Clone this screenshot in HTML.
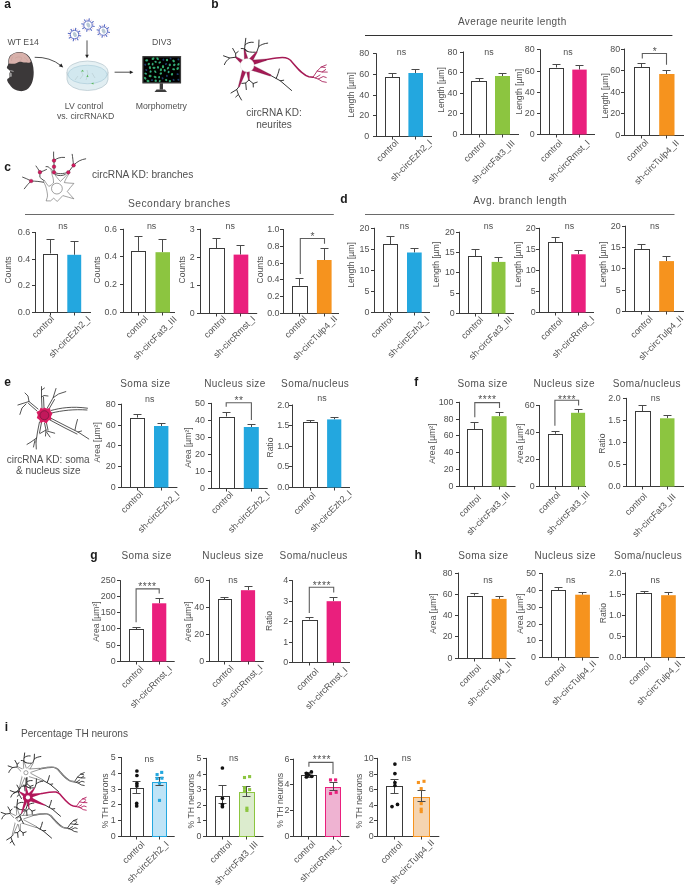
<!DOCTYPE html>
<html><head><meta charset="utf-8"><style>
html,body{margin:0;padding:0;background:#fff;overflow:hidden;}
svg{display:block;font-family:"Liberation Sans", sans-serif;will-change:transform;}
</style></head><body>
<svg width="685" height="885" viewBox="0 0 685 885">
<rect width="685" height="885" fill="#fff"/>
<line x1="376.50" y1="53.40" x2="376.50" y2="137.00" stroke="#3a3a3a" stroke-width="1.0"/>
<line x1="373.00" y1="53.50" x2="376.50" y2="53.50" stroke="#3a3a3a" stroke-width="1.0"/>
<text x="369.2" y="56.4" font-size="8.9" text-anchor="end" fill="#505050" >80</text>
<line x1="373.00" y1="74.50" x2="376.50" y2="74.50" stroke="#3a3a3a" stroke-width="1.0"/>
<text x="369.2" y="77.0" font-size="8.9" text-anchor="end" fill="#505050" >60</text>
<line x1="373.00" y1="95.50" x2="376.50" y2="95.50" stroke="#3a3a3a" stroke-width="1.0"/>
<text x="369.2" y="97.7" font-size="8.9" text-anchor="end" fill="#505050" >40</text>
<line x1="373.00" y1="115.50" x2="376.50" y2="115.50" stroke="#3a3a3a" stroke-width="1.0"/>
<text x="369.2" y="118.3" font-size="8.9" text-anchor="end" fill="#505050" >20</text>
<line x1="373.00" y1="136.50" x2="376.50" y2="136.50" stroke="#3a3a3a" stroke-width="1.0"/>
<text x="369.2" y="139.0" font-size="8.9" text-anchor="end" fill="#505050" >0</text>
<line x1="373.00" y1="136.50" x2="432.00" y2="136.50" stroke="#3a3a3a" stroke-width="1.0"/>
<line x1="392.50" y1="73.50" x2="392.50" y2="77.00" stroke="#4a4a4a" stroke-width="1.0"/>
<line x1="388.50" y1="73.50" x2="396.50" y2="73.50" stroke="#4a4a4a" stroke-width="1.0"/>
<rect x="385.50" y="77.50" width="14.00" height="59.00" fill="#fff" stroke="#3a3a3a" stroke-width="1"/>
<line x1="392.50" y1="136.50" x2="392.50" y2="139.50" stroke="#3a3a3a" stroke-width="1.0"/>
<line x1="415.50" y1="69.50" x2="415.50" y2="73.00" stroke="#4a4a4a" stroke-width="1.0"/>
<line x1="411.50" y1="69.50" x2="419.50" y2="69.50" stroke="#4a4a4a" stroke-width="1.0"/>
<rect x="408.40" y="73.00" width="14.60" height="63.50" fill="#23a7df"/>
<line x1="415.50" y1="136.50" x2="415.50" y2="139.50" stroke="#3a3a3a" stroke-width="1.0"/>
<text transform="translate(350.8,95.0) rotate(-90)" x="0" y="3" font-size="8.6" text-anchor="middle" fill="#505050">Length [µm]</text>
<text x="401.5" y="55.0" font-size="8.9" text-anchor="middle" fill="#505050" >ns</text>
<text transform="translate(389.50,152.70) rotate(-45)" x="0" y="0" font-size="9.0" text-anchor="middle" fill="#505050">control</text>
<text transform="translate(413.30,162.50) rotate(-45)" x="0" y="0" font-size="9.0" text-anchor="middle" fill="#505050">sh-circEzh2_I</text>
<line x1="463.50" y1="51.50" x2="463.50" y2="135.00" stroke="#3a3a3a" stroke-width="1.0"/>
<line x1="460.00" y1="52.50" x2="463.50" y2="52.50" stroke="#3a3a3a" stroke-width="1.0"/>
<text x="457.4" y="54.5" font-size="8.9" text-anchor="end" fill="#505050" >80</text>
<line x1="460.00" y1="72.50" x2="463.50" y2="72.50" stroke="#3a3a3a" stroke-width="1.0"/>
<text x="457.4" y="75.1" font-size="8.9" text-anchor="end" fill="#505050" >60</text>
<line x1="460.00" y1="93.50" x2="463.50" y2="93.50" stroke="#3a3a3a" stroke-width="1.0"/>
<text x="457.4" y="95.8" font-size="8.9" text-anchor="end" fill="#505050" >40</text>
<line x1="460.00" y1="113.50" x2="463.50" y2="113.50" stroke="#3a3a3a" stroke-width="1.0"/>
<text x="457.4" y="116.4" font-size="8.9" text-anchor="end" fill="#505050" >20</text>
<line x1="460.00" y1="134.50" x2="463.50" y2="134.50" stroke="#3a3a3a" stroke-width="1.0"/>
<text x="457.4" y="137.0" font-size="8.9" text-anchor="end" fill="#505050" >0</text>
<line x1="460.00" y1="134.50" x2="519.00" y2="134.50" stroke="#3a3a3a" stroke-width="1.0"/>
<line x1="479.50" y1="78.50" x2="479.50" y2="81.00" stroke="#4a4a4a" stroke-width="1.0"/>
<line x1="475.50" y1="78.50" x2="483.50" y2="78.50" stroke="#4a4a4a" stroke-width="1.0"/>
<rect x="471.50" y="81.50" width="15.00" height="53.00" fill="#fff" stroke="#3a3a3a" stroke-width="1"/>
<line x1="479.50" y1="134.50" x2="479.50" y2="137.50" stroke="#3a3a3a" stroke-width="1.0"/>
<line x1="502.50" y1="73.50" x2="502.50" y2="76.00" stroke="#4a4a4a" stroke-width="1.0"/>
<line x1="498.50" y1="73.50" x2="506.50" y2="73.50" stroke="#4a4a4a" stroke-width="1.0"/>
<rect x="495.00" y="76.00" width="15.00" height="58.50" fill="#8cc540"/>
<line x1="502.50" y1="134.50" x2="502.50" y2="137.50" stroke="#3a3a3a" stroke-width="1.0"/>
<text transform="translate(441.4,90.0) rotate(-90)" x="0" y="3" font-size="8.6" text-anchor="middle" fill="#505050">Length [µm]</text>
<text x="489.0" y="55.0" font-size="8.9" text-anchor="middle" fill="#505050" >ns</text>
<text transform="translate(476.70,153.00) rotate(-45)" x="0" y="0" font-size="9.0" text-anchor="middle" fill="#505050">control</text>
<text transform="translate(495.10,164.00) rotate(-45)" x="0" y="0" font-size="9.0" text-anchor="middle" fill="#505050">sh-circFat3_III</text>
<line x1="540.50" y1="49.40" x2="540.50" y2="135.00" stroke="#3a3a3a" stroke-width="1.0"/>
<line x1="537.00" y1="49.50" x2="540.50" y2="49.50" stroke="#3a3a3a" stroke-width="1.0"/>
<text x="534.7" y="52.4" font-size="8.9" text-anchor="end" fill="#505050" >80</text>
<line x1="537.00" y1="71.50" x2="540.50" y2="71.50" stroke="#3a3a3a" stroke-width="1.0"/>
<text x="534.7" y="73.5" font-size="8.9" text-anchor="end" fill="#505050" >60</text>
<line x1="537.00" y1="92.50" x2="540.50" y2="92.50" stroke="#3a3a3a" stroke-width="1.0"/>
<text x="534.7" y="94.6" font-size="8.9" text-anchor="end" fill="#505050" >40</text>
<line x1="537.00" y1="113.50" x2="540.50" y2="113.50" stroke="#3a3a3a" stroke-width="1.0"/>
<text x="534.7" y="115.7" font-size="8.9" text-anchor="end" fill="#505050" >20</text>
<line x1="537.00" y1="134.50" x2="540.50" y2="134.50" stroke="#3a3a3a" stroke-width="1.0"/>
<text x="534.7" y="136.8" font-size="8.9" text-anchor="end" fill="#505050" >0</text>
<line x1="537.00" y1="134.50" x2="595.00" y2="134.50" stroke="#3a3a3a" stroke-width="1.0"/>
<line x1="556.50" y1="64.50" x2="556.50" y2="67.50" stroke="#4a4a4a" stroke-width="1.0"/>
<line x1="552.50" y1="64.50" x2="560.50" y2="64.50" stroke="#4a4a4a" stroke-width="1.0"/>
<rect x="549.50" y="68.50" width="14.00" height="66.00" fill="#fff" stroke="#3a3a3a" stroke-width="1"/>
<line x1="556.50" y1="134.50" x2="556.50" y2="137.50" stroke="#3a3a3a" stroke-width="1.0"/>
<line x1="579.50" y1="65.50" x2="579.50" y2="69.60" stroke="#4a4a4a" stroke-width="1.0"/>
<line x1="575.50" y1="65.50" x2="583.50" y2="65.50" stroke="#4a4a4a" stroke-width="1.0"/>
<rect x="572.30" y="69.60" width="14.40" height="64.90" fill="#ea1f7d"/>
<line x1="579.50" y1="134.50" x2="579.50" y2="137.50" stroke="#3a3a3a" stroke-width="1.0"/>
<text transform="translate(519.2,91.7) rotate(-90)" x="0" y="3" font-size="8.6" text-anchor="middle" fill="#505050">Length [µm]</text>
<text x="568.0" y="55.0" font-size="8.9" text-anchor="middle" fill="#505050" >ns</text>
<text transform="translate(553.40,153.00) rotate(-45)" x="0" y="0" font-size="9.0" text-anchor="middle" fill="#505050">control</text>
<text transform="translate(570.90,163.00) rotate(-45)" x="0" y="0" font-size="9.0" text-anchor="middle" fill="#505050">sh-circRmst_I</text>
<line x1="624.50" y1="48.60" x2="624.50" y2="136.00" stroke="#3a3a3a" stroke-width="1.0"/>
<line x1="621.00" y1="49.50" x2="624.50" y2="49.50" stroke="#3a3a3a" stroke-width="1.0"/>
<text x="620.2" y="51.6" font-size="8.9" text-anchor="end" fill="#505050" >80</text>
<line x1="621.00" y1="70.50" x2="624.50" y2="70.50" stroke="#3a3a3a" stroke-width="1.0"/>
<text x="620.2" y="73.2" font-size="8.9" text-anchor="end" fill="#505050" >60</text>
<line x1="621.00" y1="92.50" x2="624.50" y2="92.50" stroke="#3a3a3a" stroke-width="1.0"/>
<text x="620.2" y="94.7" font-size="8.9" text-anchor="end" fill="#505050" >40</text>
<line x1="621.00" y1="113.50" x2="624.50" y2="113.50" stroke="#3a3a3a" stroke-width="1.0"/>
<text x="620.2" y="116.2" font-size="8.9" text-anchor="end" fill="#505050" >20</text>
<line x1="621.00" y1="135.50" x2="624.50" y2="135.50" stroke="#3a3a3a" stroke-width="1.0"/>
<text x="620.2" y="137.8" font-size="8.9" text-anchor="end" fill="#505050" >0</text>
<line x1="621.00" y1="135.50" x2="684.00" y2="135.50" stroke="#3a3a3a" stroke-width="1.0"/>
<line x1="641.50" y1="63.50" x2="641.50" y2="67.00" stroke="#4a4a4a" stroke-width="1.0"/>
<line x1="637.50" y1="63.50" x2="645.50" y2="63.50" stroke="#4a4a4a" stroke-width="1.0"/>
<rect x="634.50" y="67.50" width="15.00" height="68.00" fill="#fff" stroke="#3a3a3a" stroke-width="1"/>
<line x1="641.50" y1="135.50" x2="641.50" y2="138.50" stroke="#3a3a3a" stroke-width="1.0"/>
<line x1="666.50" y1="70.50" x2="666.50" y2="74.00" stroke="#4a4a4a" stroke-width="1.0"/>
<line x1="662.50" y1="70.50" x2="670.50" y2="70.50" stroke="#4a4a4a" stroke-width="1.0"/>
<rect x="659.20" y="74.00" width="15.30" height="61.50" fill="#f6931e"/>
<line x1="666.50" y1="135.50" x2="666.50" y2="138.50" stroke="#3a3a3a" stroke-width="1.0"/>
<text transform="translate(604.6,96.0) rotate(-90)" x="0" y="3" font-size="8.6" text-anchor="middle" fill="#505050">Length [µm]</text>
<polyline points="642.3,58.6 642.3,53.5 666.5,53.5 666.5,64.8" fill="none" stroke="#5e5e5e" stroke-width="1.1"/>
<text x="655.1" y="55.0" font-size="10.2" text-anchor="middle" fill="#505050" letter-spacing="0.55">*</text>
<text transform="translate(639.30,152.30) rotate(-45)" x="0" y="0" font-size="9.0" text-anchor="middle" fill="#505050">control</text>
<text transform="translate(658.70,164.30) rotate(-45)" x="0" y="0" font-size="9.0" text-anchor="middle" fill="#505050">sh-circTulp4_II</text>
<line x1="35.50" y1="232.00" x2="35.50" y2="313.00" stroke="#3a3a3a" stroke-width="1.0"/>
<line x1="32.00" y1="232.50" x2="35.50" y2="232.50" stroke="#3a3a3a" stroke-width="1.0"/>
<text x="30.1" y="235.0" font-size="8.9" text-anchor="end" fill="#505050" >0.6</text>
<line x1="32.00" y1="259.50" x2="35.50" y2="259.50" stroke="#3a3a3a" stroke-width="1.0"/>
<text x="30.1" y="261.7" font-size="8.9" text-anchor="end" fill="#505050" >0.4</text>
<line x1="32.00" y1="285.50" x2="35.50" y2="285.50" stroke="#3a3a3a" stroke-width="1.0"/>
<text x="30.1" y="288.4" font-size="8.9" text-anchor="end" fill="#505050" >0.2</text>
<line x1="32.00" y1="312.50" x2="35.50" y2="312.50" stroke="#3a3a3a" stroke-width="1.0"/>
<text x="30.1" y="315.1" font-size="8.9" text-anchor="end" fill="#505050" >0.0</text>
<line x1="32.00" y1="312.50" x2="91.00" y2="312.50" stroke="#3a3a3a" stroke-width="1.0"/>
<line x1="50.50" y1="239.50" x2="50.50" y2="253.50" stroke="#4a4a4a" stroke-width="1.0"/>
<line x1="46.50" y1="239.50" x2="54.50" y2="239.50" stroke="#4a4a4a" stroke-width="1.0"/>
<rect x="43.50" y="254.50" width="14.00" height="58.00" fill="#fff" stroke="#3a3a3a" stroke-width="1"/>
<line x1="50.50" y1="312.50" x2="50.50" y2="315.50" stroke="#3a3a3a" stroke-width="1.0"/>
<line x1="74.50" y1="241.50" x2="74.50" y2="254.80" stroke="#4a4a4a" stroke-width="1.0"/>
<line x1="70.50" y1="241.50" x2="78.50" y2="241.50" stroke="#4a4a4a" stroke-width="1.0"/>
<rect x="67.30" y="254.80" width="13.90" height="57.70" fill="#23a7df"/>
<line x1="74.50" y1="312.50" x2="74.50" y2="315.50" stroke="#3a3a3a" stroke-width="1.0"/>
<text transform="translate(7.9,270.0) rotate(-90)" x="0" y="3" font-size="8.6" text-anchor="middle" fill="#505050">Counts</text>
<text x="63.0" y="229.0" font-size="8.9" text-anchor="middle" fill="#505050" >ns</text>
<text transform="translate(45.10,329.00) rotate(-45)" x="0" y="0" font-size="9.0" text-anchor="middle" fill="#505050">control</text>
<text transform="translate(71.70,339.00) rotate(-45)" x="0" y="0" font-size="9.0" text-anchor="middle" fill="#505050">sh-circEzh2_I</text>
<line x1="123.50" y1="228.80" x2="123.50" y2="313.00" stroke="#3a3a3a" stroke-width="1.0"/>
<line x1="120.00" y1="229.50" x2="123.50" y2="229.50" stroke="#3a3a3a" stroke-width="1.0"/>
<text x="116.9" y="231.8" font-size="8.9" text-anchor="end" fill="#505050" >0.6</text>
<line x1="120.00" y1="256.50" x2="123.50" y2="256.50" stroke="#3a3a3a" stroke-width="1.0"/>
<text x="116.9" y="259.4" font-size="8.9" text-anchor="end" fill="#505050" >0.4</text>
<line x1="120.00" y1="284.50" x2="123.50" y2="284.50" stroke="#3a3a3a" stroke-width="1.0"/>
<text x="116.9" y="286.9" font-size="8.9" text-anchor="end" fill="#505050" >0.2</text>
<line x1="120.00" y1="312.50" x2="123.50" y2="312.50" stroke="#3a3a3a" stroke-width="1.0"/>
<text x="116.9" y="314.5" font-size="8.9" text-anchor="end" fill="#505050" >0.0</text>
<line x1="120.00" y1="312.50" x2="175.00" y2="312.50" stroke="#3a3a3a" stroke-width="1.0"/>
<line x1="138.50" y1="236.50" x2="138.50" y2="250.90" stroke="#4a4a4a" stroke-width="1.0"/>
<line x1="134.50" y1="236.50" x2="142.50" y2="236.50" stroke="#4a4a4a" stroke-width="1.0"/>
<rect x="131.50" y="251.50" width="14.00" height="61.00" fill="#fff" stroke="#3a3a3a" stroke-width="1"/>
<line x1="138.50" y1="312.50" x2="138.50" y2="315.50" stroke="#3a3a3a" stroke-width="1.0"/>
<line x1="162.50" y1="239.50" x2="162.50" y2="252.20" stroke="#4a4a4a" stroke-width="1.0"/>
<line x1="158.50" y1="239.50" x2="166.50" y2="239.50" stroke="#4a4a4a" stroke-width="1.0"/>
<rect x="155.50" y="252.20" width="14.50" height="60.30" fill="#8cc540"/>
<line x1="162.50" y1="312.50" x2="162.50" y2="315.50" stroke="#3a3a3a" stroke-width="1.0"/>
<text transform="translate(97.2,270.0) rotate(-90)" x="0" y="3" font-size="8.6" text-anchor="middle" fill="#505050">Counts</text>
<text x="151.6" y="229.0" font-size="8.9" text-anchor="middle" fill="#505050" >ns</text>
<text transform="translate(138.90,329.00) rotate(-45)" x="0" y="0" font-size="9.0" text-anchor="middle" fill="#505050">control</text>
<text transform="translate(157.00,340.00) rotate(-45)" x="0" y="0" font-size="9.0" text-anchor="middle" fill="#505050">sh-circFat3_III</text>
<line x1="200.50" y1="228.80" x2="200.50" y2="314.00" stroke="#3a3a3a" stroke-width="1.0"/>
<line x1="197.00" y1="229.50" x2="200.50" y2="229.50" stroke="#3a3a3a" stroke-width="1.0"/>
<text x="194.7" y="231.8" font-size="8.9" text-anchor="end" fill="#505050" >3</text>
<line x1="197.00" y1="257.50" x2="200.50" y2="257.50" stroke="#3a3a3a" stroke-width="1.0"/>
<text x="194.7" y="259.8" font-size="8.9" text-anchor="end" fill="#505050" >2</text>
<line x1="197.00" y1="285.50" x2="200.50" y2="285.50" stroke="#3a3a3a" stroke-width="1.0"/>
<text x="194.7" y="287.9" font-size="8.9" text-anchor="end" fill="#505050" >1</text>
<line x1="197.00" y1="313.50" x2="200.50" y2="313.50" stroke="#3a3a3a" stroke-width="1.0"/>
<text x="194.7" y="315.9" font-size="8.9" text-anchor="end" fill="#505050" >0</text>
<line x1="197.00" y1="313.50" x2="257.20" y2="313.50" stroke="#3a3a3a" stroke-width="1.0"/>
<line x1="216.50" y1="238.50" x2="216.50" y2="248.00" stroke="#4a4a4a" stroke-width="1.0"/>
<line x1="212.50" y1="238.50" x2="220.50" y2="238.50" stroke="#4a4a4a" stroke-width="1.0"/>
<rect x="209.50" y="248.50" width="15.00" height="65.00" fill="#fff" stroke="#3a3a3a" stroke-width="1"/>
<line x1="216.50" y1="313.50" x2="216.50" y2="316.50" stroke="#3a3a3a" stroke-width="1.0"/>
<line x1="240.50" y1="245.50" x2="240.50" y2="254.60" stroke="#4a4a4a" stroke-width="1.0"/>
<line x1="236.50" y1="245.50" x2="244.50" y2="245.50" stroke="#4a4a4a" stroke-width="1.0"/>
<rect x="233.60" y="254.60" width="14.70" height="58.90" fill="#ea1f7d"/>
<line x1="240.50" y1="313.50" x2="240.50" y2="316.50" stroke="#3a3a3a" stroke-width="1.0"/>
<text transform="translate(182.0,269.8) rotate(-90)" x="0" y="3" font-size="8.6" text-anchor="middle" fill="#505050">Counts</text>
<text x="230.2" y="229.0" font-size="8.9" text-anchor="middle" fill="#505050" >ns</text>
<text transform="translate(217.10,329.00) rotate(-45)" x="0" y="0" font-size="9.0" text-anchor="middle" fill="#505050">control</text>
<text transform="translate(236.40,339.00) rotate(-45)" x="0" y="0" font-size="9.0" text-anchor="middle" fill="#505050">sh-circRmst_I</text>
<line x1="283.50" y1="229.10" x2="283.50" y2="314.00" stroke="#3a3a3a" stroke-width="1.0"/>
<line x1="280.00" y1="229.50" x2="283.50" y2="229.50" stroke="#3a3a3a" stroke-width="1.0"/>
<text x="279.5" y="232.1" font-size="8.9" text-anchor="end" fill="#505050" >1.0</text>
<line x1="280.00" y1="246.50" x2="283.50" y2="246.50" stroke="#3a3a3a" stroke-width="1.0"/>
<text x="279.5" y="248.9" font-size="8.9" text-anchor="end" fill="#505050" >0.8</text>
<line x1="280.00" y1="263.50" x2="283.50" y2="263.50" stroke="#3a3a3a" stroke-width="1.0"/>
<text x="279.5" y="265.6" font-size="8.9" text-anchor="end" fill="#505050" >0.6</text>
<line x1="280.00" y1="279.50" x2="283.50" y2="279.50" stroke="#3a3a3a" stroke-width="1.0"/>
<text x="279.5" y="282.4" font-size="8.9" text-anchor="end" fill="#505050" >0.4</text>
<line x1="280.00" y1="296.50" x2="283.50" y2="296.50" stroke="#3a3a3a" stroke-width="1.0"/>
<text x="279.5" y="299.1" font-size="8.9" text-anchor="end" fill="#505050" >0.2</text>
<line x1="280.00" y1="313.50" x2="283.50" y2="313.50" stroke="#3a3a3a" stroke-width="1.0"/>
<text x="279.5" y="315.9" font-size="8.9" text-anchor="end" fill="#505050" >0.0</text>
<line x1="280.00" y1="313.50" x2="339.00" y2="313.50" stroke="#3a3a3a" stroke-width="1.0"/>
<line x1="299.50" y1="278.50" x2="299.50" y2="285.80" stroke="#4a4a4a" stroke-width="1.0"/>
<line x1="295.50" y1="278.50" x2="303.50" y2="278.50" stroke="#4a4a4a" stroke-width="1.0"/>
<rect x="292.50" y="286.50" width="15.00" height="27.00" fill="#fff" stroke="#3a3a3a" stroke-width="1"/>
<line x1="299.50" y1="313.50" x2="299.50" y2="316.50" stroke="#3a3a3a" stroke-width="1.0"/>
<line x1="324.50" y1="248.50" x2="324.50" y2="260.00" stroke="#4a4a4a" stroke-width="1.0"/>
<line x1="320.50" y1="248.50" x2="328.50" y2="248.50" stroke="#4a4a4a" stroke-width="1.0"/>
<rect x="316.90" y="260.00" width="14.70" height="53.50" fill="#f6931e"/>
<line x1="324.50" y1="313.50" x2="324.50" y2="316.50" stroke="#3a3a3a" stroke-width="1.0"/>
<text transform="translate(259.6,269.8) rotate(-90)" x="0" y="3" font-size="8.6" text-anchor="middle" fill="#505050">Counts</text>
<polyline points="300.3,274.0 300.3,238.5 324.5,238.5 324.5,243.8" fill="none" stroke="#5e5e5e" stroke-width="1.1"/>
<text x="312.7" y="239.7" font-size="10.2" text-anchor="middle" fill="#505050" letter-spacing="0.55">*</text>
<text transform="translate(297.70,329.00) rotate(-45)" x="0" y="0" font-size="9.0" text-anchor="middle" fill="#505050">control</text>
<text transform="translate(317.00,340.00) rotate(-45)" x="0" y="0" font-size="9.0" text-anchor="middle" fill="#505050">sh-circTulp4_II</text>
<line x1="374.50" y1="227.80" x2="374.50" y2="313.00" stroke="#3a3a3a" stroke-width="1.0"/>
<line x1="371.00" y1="228.50" x2="374.50" y2="228.50" stroke="#3a3a3a" stroke-width="1.0"/>
<text x="369.4" y="230.8" font-size="8.9" text-anchor="end" fill="#505050" >20</text>
<line x1="371.00" y1="249.50" x2="374.50" y2="249.50" stroke="#3a3a3a" stroke-width="1.0"/>
<text x="369.4" y="251.8" font-size="8.9" text-anchor="end" fill="#505050" >15</text>
<line x1="371.00" y1="270.50" x2="374.50" y2="270.50" stroke="#3a3a3a" stroke-width="1.0"/>
<text x="369.4" y="272.7" font-size="8.9" text-anchor="end" fill="#505050" >10</text>
<line x1="371.00" y1="291.50" x2="374.50" y2="291.50" stroke="#3a3a3a" stroke-width="1.0"/>
<text x="369.4" y="293.7" font-size="8.9" text-anchor="end" fill="#505050" >5</text>
<line x1="371.00" y1="312.50" x2="374.50" y2="312.50" stroke="#3a3a3a" stroke-width="1.0"/>
<text x="369.4" y="314.6" font-size="8.9" text-anchor="end" fill="#505050" >0</text>
<line x1="371.00" y1="312.50" x2="430.00" y2="312.50" stroke="#3a3a3a" stroke-width="1.0"/>
<line x1="390.50" y1="236.50" x2="390.50" y2="244.00" stroke="#4a4a4a" stroke-width="1.0"/>
<line x1="386.50" y1="236.50" x2="394.50" y2="236.50" stroke="#4a4a4a" stroke-width="1.0"/>
<rect x="383.50" y="244.50" width="14.00" height="68.00" fill="#fff" stroke="#3a3a3a" stroke-width="1"/>
<line x1="390.50" y1="312.50" x2="390.50" y2="315.50" stroke="#3a3a3a" stroke-width="1.0"/>
<line x1="414.50" y1="248.50" x2="414.50" y2="252.50" stroke="#4a4a4a" stroke-width="1.0"/>
<line x1="410.50" y1="248.50" x2="418.50" y2="248.50" stroke="#4a4a4a" stroke-width="1.0"/>
<rect x="407.00" y="252.50" width="14.70" height="60.00" fill="#23a7df"/>
<line x1="414.50" y1="312.50" x2="414.50" y2="315.50" stroke="#3a3a3a" stroke-width="1.0"/>
<text transform="translate(351.3,265.0) rotate(-90)" x="0" y="3" font-size="8.6" text-anchor="middle" fill="#505050">Length [µm]</text>
<text x="404.4" y="229.0" font-size="8.9" text-anchor="middle" fill="#505050" >ns</text>
<text transform="translate(384.10,329.00) rotate(-45)" x="0" y="0" font-size="9.0" text-anchor="middle" fill="#505050">control</text>
<text transform="translate(410.50,339.00) rotate(-45)" x="0" y="0" font-size="9.0" text-anchor="middle" fill="#505050">sh-circEzh2_I</text>
<line x1="459.50" y1="231.70" x2="459.50" y2="314.00" stroke="#3a3a3a" stroke-width="1.0"/>
<line x1="456.00" y1="232.50" x2="459.50" y2="232.50" stroke="#3a3a3a" stroke-width="1.0"/>
<text x="454.8" y="234.7" font-size="8.9" text-anchor="end" fill="#505050" >20</text>
<line x1="456.00" y1="252.50" x2="459.50" y2="252.50" stroke="#3a3a3a" stroke-width="1.0"/>
<text x="454.8" y="255.0" font-size="8.9" text-anchor="end" fill="#505050" >15</text>
<line x1="456.00" y1="272.50" x2="459.50" y2="272.50" stroke="#3a3a3a" stroke-width="1.0"/>
<text x="454.8" y="275.3" font-size="8.9" text-anchor="end" fill="#505050" >10</text>
<line x1="456.00" y1="293.50" x2="459.50" y2="293.50" stroke="#3a3a3a" stroke-width="1.0"/>
<text x="454.8" y="295.6" font-size="8.9" text-anchor="end" fill="#505050" >5</text>
<line x1="456.00" y1="313.50" x2="459.50" y2="313.50" stroke="#3a3a3a" stroke-width="1.0"/>
<text x="454.8" y="315.9" font-size="8.9" text-anchor="end" fill="#505050" >0</text>
<line x1="456.00" y1="313.50" x2="514.00" y2="313.50" stroke="#3a3a3a" stroke-width="1.0"/>
<line x1="475.50" y1="249.50" x2="475.50" y2="256.10" stroke="#4a4a4a" stroke-width="1.0"/>
<line x1="471.50" y1="249.50" x2="479.50" y2="249.50" stroke="#4a4a4a" stroke-width="1.0"/>
<rect x="468.50" y="256.50" width="13.00" height="57.00" fill="#fff" stroke="#3a3a3a" stroke-width="1"/>
<line x1="475.50" y1="313.50" x2="475.50" y2="316.50" stroke="#3a3a3a" stroke-width="1.0"/>
<line x1="498.50" y1="257.50" x2="498.50" y2="261.90" stroke="#4a4a4a" stroke-width="1.0"/>
<line x1="494.50" y1="257.50" x2="502.50" y2="257.50" stroke="#4a4a4a" stroke-width="1.0"/>
<rect x="491.60" y="261.90" width="13.90" height="51.60" fill="#8cc540"/>
<line x1="498.50" y1="313.50" x2="498.50" y2="316.50" stroke="#3a3a3a" stroke-width="1.0"/>
<text transform="translate(436.4,264.5) rotate(-90)" x="0" y="3" font-size="8.6" text-anchor="middle" fill="#505050">Length [µm]</text>
<text x="488.4" y="229.0" font-size="8.9" text-anchor="middle" fill="#505050" >ns</text>
<text transform="translate(474.20,330.00) rotate(-45)" x="0" y="0" font-size="9.0" text-anchor="middle" fill="#505050">control</text>
<text transform="translate(492.70,340.00) rotate(-45)" x="0" y="0" font-size="9.0" text-anchor="middle" fill="#505050">sh-circFat3_III</text>
<line x1="539.50" y1="227.80" x2="539.50" y2="313.00" stroke="#3a3a3a" stroke-width="1.0"/>
<line x1="536.00" y1="228.50" x2="539.50" y2="228.50" stroke="#3a3a3a" stroke-width="1.0"/>
<text x="535.7" y="230.8" font-size="8.9" text-anchor="end" fill="#505050" >20</text>
<line x1="536.00" y1="249.50" x2="539.50" y2="249.50" stroke="#3a3a3a" stroke-width="1.0"/>
<text x="535.7" y="251.9" font-size="8.9" text-anchor="end" fill="#505050" >15</text>
<line x1="536.00" y1="270.50" x2="539.50" y2="270.50" stroke="#3a3a3a" stroke-width="1.0"/>
<text x="535.7" y="273.1" font-size="8.9" text-anchor="end" fill="#505050" >10</text>
<line x1="536.00" y1="291.50" x2="539.50" y2="291.50" stroke="#3a3a3a" stroke-width="1.0"/>
<text x="535.7" y="294.2" font-size="8.9" text-anchor="end" fill="#505050" >5</text>
<line x1="536.00" y1="312.50" x2="539.50" y2="312.50" stroke="#3a3a3a" stroke-width="1.0"/>
<text x="535.7" y="315.4" font-size="8.9" text-anchor="end" fill="#505050" >0</text>
<line x1="536.00" y1="312.50" x2="594.00" y2="312.50" stroke="#3a3a3a" stroke-width="1.0"/>
<line x1="555.50" y1="237.50" x2="555.50" y2="242.20" stroke="#4a4a4a" stroke-width="1.0"/>
<line x1="551.50" y1="237.50" x2="559.50" y2="237.50" stroke="#4a4a4a" stroke-width="1.0"/>
<rect x="548.50" y="242.50" width="14.00" height="70.00" fill="#fff" stroke="#3a3a3a" stroke-width="1"/>
<line x1="555.50" y1="312.50" x2="555.50" y2="315.50" stroke="#3a3a3a" stroke-width="1.0"/>
<line x1="578.50" y1="250.50" x2="578.50" y2="254.30" stroke="#4a4a4a" stroke-width="1.0"/>
<line x1="574.50" y1="250.50" x2="582.50" y2="250.50" stroke="#4a4a4a" stroke-width="1.0"/>
<rect x="571.20" y="254.30" width="14.50" height="58.20" fill="#ea1f7d"/>
<line x1="578.50" y1="312.50" x2="578.50" y2="315.50" stroke="#3a3a3a" stroke-width="1.0"/>
<text transform="translate(518.2,264.5) rotate(-90)" x="0" y="3" font-size="8.6" text-anchor="middle" fill="#505050">Length [µm]</text>
<text x="569.4" y="229.0" font-size="8.9" text-anchor="middle" fill="#505050" >ns</text>
<text transform="translate(553.60,331.00) rotate(-45)" x="0" y="0" font-size="9.0" text-anchor="middle" fill="#505050">control</text>
<text transform="translate(575.30,339.00) rotate(-45)" x="0" y="0" font-size="9.0" text-anchor="middle" fill="#505050">sh-circRmst_I</text>
<line x1="625.50" y1="225.70" x2="625.50" y2="312.00" stroke="#3a3a3a" stroke-width="1.0"/>
<line x1="622.00" y1="226.50" x2="625.50" y2="226.50" stroke="#3a3a3a" stroke-width="1.0"/>
<text x="620.6" y="228.7" font-size="8.9" text-anchor="end" fill="#505050" >20</text>
<line x1="622.00" y1="247.50" x2="625.50" y2="247.50" stroke="#3a3a3a" stroke-width="1.0"/>
<text x="620.6" y="250.0" font-size="8.9" text-anchor="end" fill="#505050" >15</text>
<line x1="622.00" y1="268.50" x2="625.50" y2="268.50" stroke="#3a3a3a" stroke-width="1.0"/>
<text x="620.6" y="271.2" font-size="8.9" text-anchor="end" fill="#505050" >10</text>
<line x1="622.00" y1="290.50" x2="625.50" y2="290.50" stroke="#3a3a3a" stroke-width="1.0"/>
<text x="620.6" y="292.5" font-size="8.9" text-anchor="end" fill="#505050" >5</text>
<line x1="622.00" y1="311.50" x2="625.50" y2="311.50" stroke="#3a3a3a" stroke-width="1.0"/>
<text x="620.6" y="313.8" font-size="8.9" text-anchor="end" fill="#505050" >0</text>
<line x1="622.00" y1="311.50" x2="684.00" y2="311.50" stroke="#3a3a3a" stroke-width="1.0"/>
<line x1="641.50" y1="244.50" x2="641.50" y2="249.00" stroke="#4a4a4a" stroke-width="1.0"/>
<line x1="637.50" y1="244.50" x2="645.50" y2="244.50" stroke="#4a4a4a" stroke-width="1.0"/>
<rect x="634.50" y="249.50" width="15.00" height="62.00" fill="#fff" stroke="#3a3a3a" stroke-width="1"/>
<line x1="641.50" y1="311.50" x2="641.50" y2="314.50" stroke="#3a3a3a" stroke-width="1.0"/>
<line x1="666.50" y1="256.50" x2="666.50" y2="261.10" stroke="#4a4a4a" stroke-width="1.0"/>
<line x1="662.50" y1="256.50" x2="670.50" y2="256.50" stroke="#4a4a4a" stroke-width="1.0"/>
<rect x="659.20" y="261.10" width="14.80" height="50.40" fill="#f6931e"/>
<line x1="666.50" y1="311.50" x2="666.50" y2="314.50" stroke="#3a3a3a" stroke-width="1.0"/>
<text transform="translate(603.3,264.5) rotate(-90)" x="0" y="3" font-size="8.6" text-anchor="middle" fill="#505050">Length [µm]</text>
<text x="654.8" y="229.0" font-size="8.9" text-anchor="middle" fill="#505050" >ns</text>
<text transform="translate(643.60,329.00) rotate(-45)" x="0" y="0" font-size="9.0" text-anchor="middle" fill="#505050">control</text>
<text transform="translate(662.90,340.00) rotate(-45)" x="0" y="0" font-size="9.0" text-anchor="middle" fill="#505050">sh-circTulp4_II</text>
<line x1="121.50" y1="403.70" x2="121.50" y2="488.00" stroke="#3a3a3a" stroke-width="1.0"/>
<line x1="118.00" y1="404.50" x2="121.50" y2="404.50" stroke="#3a3a3a" stroke-width="1.0"/>
<text x="115.6" y="406.7" font-size="8.9" text-anchor="end" fill="#505050" >80</text>
<line x1="118.00" y1="425.50" x2="121.50" y2="425.50" stroke="#3a3a3a" stroke-width="1.0"/>
<text x="115.6" y="427.5" font-size="8.9" text-anchor="end" fill="#505050" >60</text>
<line x1="118.00" y1="445.50" x2="121.50" y2="445.50" stroke="#3a3a3a" stroke-width="1.0"/>
<text x="115.6" y="448.3" font-size="8.9" text-anchor="end" fill="#505050" >40</text>
<line x1="118.00" y1="466.50" x2="121.50" y2="466.50" stroke="#3a3a3a" stroke-width="1.0"/>
<text x="115.6" y="469.1" font-size="8.9" text-anchor="end" fill="#505050" >20</text>
<line x1="118.00" y1="487.50" x2="121.50" y2="487.50" stroke="#3a3a3a" stroke-width="1.0"/>
<text x="115.6" y="489.9" font-size="8.9" text-anchor="end" fill="#505050" >0</text>
<line x1="118.00" y1="487.50" x2="177.40" y2="487.50" stroke="#3a3a3a" stroke-width="1.0"/>
<line x1="137.50" y1="414.50" x2="137.50" y2="417.60" stroke="#4a4a4a" stroke-width="1.0"/>
<line x1="133.50" y1="414.50" x2="141.50" y2="414.50" stroke="#4a4a4a" stroke-width="1.0"/>
<rect x="130.50" y="418.50" width="14.00" height="69.00" fill="#fff" stroke="#3a3a3a" stroke-width="1"/>
<line x1="137.50" y1="487.50" x2="137.50" y2="490.50" stroke="#3a3a3a" stroke-width="1.0"/>
<line x1="161.50" y1="423.50" x2="161.50" y2="426.00" stroke="#4a4a4a" stroke-width="1.0"/>
<line x1="157.50" y1="423.50" x2="165.50" y2="423.50" stroke="#4a4a4a" stroke-width="1.0"/>
<rect x="154.00" y="426.00" width="14.40" height="61.50" fill="#23a7df"/>
<line x1="161.50" y1="487.50" x2="161.50" y2="490.50" stroke="#3a3a3a" stroke-width="1.0"/>
<text transform="translate(97.2,442.3) rotate(-90)" x="0" y="3" font-size="8.6" text-anchor="middle" fill="#505050">Area [µm²]</text>
<text x="149.8" y="402.0" font-size="8.9" text-anchor="middle" fill="#505050" >ns</text>
<text transform="translate(134.00,504.00) rotate(-45)" x="0" y="0" font-size="9.0" text-anchor="middle" fill="#505050">control</text>
<text transform="translate(160.80,514.00) rotate(-45)" x="0" y="0" font-size="9.0" text-anchor="middle" fill="#505050">sh-circEzh2_I</text>
<line x1="211.50" y1="402.90" x2="211.50" y2="489.00" stroke="#3a3a3a" stroke-width="1.0"/>
<line x1="208.00" y1="403.50" x2="211.50" y2="403.50" stroke="#3a3a3a" stroke-width="1.0"/>
<text x="204.9" y="405.9" font-size="8.9" text-anchor="end" fill="#505050" >50</text>
<line x1="208.00" y1="420.50" x2="211.50" y2="420.50" stroke="#3a3a3a" stroke-width="1.0"/>
<text x="204.9" y="422.9" font-size="8.9" text-anchor="end" fill="#505050" >40</text>
<line x1="208.00" y1="437.50" x2="211.50" y2="437.50" stroke="#3a3a3a" stroke-width="1.0"/>
<text x="204.9" y="439.8" font-size="8.9" text-anchor="end" fill="#505050" >30</text>
<line x1="208.00" y1="454.50" x2="211.50" y2="454.50" stroke="#3a3a3a" stroke-width="1.0"/>
<text x="204.9" y="456.8" font-size="8.9" text-anchor="end" fill="#505050" >20</text>
<line x1="208.00" y1="471.50" x2="211.50" y2="471.50" stroke="#3a3a3a" stroke-width="1.0"/>
<text x="204.9" y="473.7" font-size="8.9" text-anchor="end" fill="#505050" >10</text>
<line x1="208.00" y1="488.50" x2="211.50" y2="488.50" stroke="#3a3a3a" stroke-width="1.0"/>
<text x="204.9" y="490.7" font-size="8.9" text-anchor="end" fill="#505050" >0</text>
<line x1="208.00" y1="488.50" x2="267.70" y2="488.50" stroke="#3a3a3a" stroke-width="1.0"/>
<line x1="226.50" y1="412.50" x2="226.50" y2="416.50" stroke="#4a4a4a" stroke-width="1.0"/>
<line x1="222.50" y1="412.50" x2="230.50" y2="412.50" stroke="#4a4a4a" stroke-width="1.0"/>
<rect x="219.50" y="417.50" width="15.00" height="71.00" fill="#fff" stroke="#3a3a3a" stroke-width="1"/>
<line x1="226.50" y1="488.50" x2="226.50" y2="491.50" stroke="#3a3a3a" stroke-width="1.0"/>
<line x1="251.50" y1="424.50" x2="251.50" y2="427.00" stroke="#4a4a4a" stroke-width="1.0"/>
<line x1="247.50" y1="424.50" x2="255.50" y2="424.50" stroke="#4a4a4a" stroke-width="1.0"/>
<rect x="243.80" y="427.00" width="15.00" height="61.50" fill="#23a7df"/>
<line x1="251.50" y1="488.50" x2="251.50" y2="491.50" stroke="#3a3a3a" stroke-width="1.0"/>
<text transform="translate(188.4,447.5) rotate(-90)" x="0" y="3" font-size="8.6" text-anchor="middle" fill="#505050">Area [µm²]</text>
<polyline points="226.2,406.8 226.2,402.8 251.4,402.8 251.4,420.0" fill="none" stroke="#5e5e5e" stroke-width="1.1"/>
<text x="239.1" y="404.0" font-size="10.2" text-anchor="middle" fill="#505050" letter-spacing="0.55">**</text>
<text transform="translate(224.20,504.70) rotate(-45)" x="0" y="0" font-size="9.0" text-anchor="middle" fill="#505050">control</text>
<text transform="translate(251.10,514.00) rotate(-45)" x="0" y="0" font-size="9.0" text-anchor="middle" fill="#505050">sh-circEzh2_I</text>
<line x1="292.50" y1="404.50" x2="292.50" y2="488.00" stroke="#3a3a3a" stroke-width="1.0"/>
<line x1="289.00" y1="405.50" x2="292.50" y2="405.50" stroke="#3a3a3a" stroke-width="1.0"/>
<text x="289.5" y="407.5" font-size="8.9" text-anchor="end" fill="#505050" >2.0</text>
<line x1="289.00" y1="425.50" x2="292.50" y2="425.50" stroke="#3a3a3a" stroke-width="1.0"/>
<text x="289.5" y="428.1" font-size="8.9" text-anchor="end" fill="#505050" >1.5</text>
<line x1="289.00" y1="446.50" x2="292.50" y2="446.50" stroke="#3a3a3a" stroke-width="1.0"/>
<text x="289.5" y="448.6" font-size="8.9" text-anchor="end" fill="#505050" >1.0</text>
<line x1="289.00" y1="466.50" x2="292.50" y2="466.50" stroke="#3a3a3a" stroke-width="1.0"/>
<text x="289.5" y="469.1" font-size="8.9" text-anchor="end" fill="#505050" >0.5</text>
<line x1="289.00" y1="487.50" x2="292.50" y2="487.50" stroke="#3a3a3a" stroke-width="1.0"/>
<text x="289.5" y="489.7" font-size="8.9" text-anchor="end" fill="#505050" >0.0</text>
<line x1="289.00" y1="487.50" x2="350.00" y2="487.50" stroke="#3a3a3a" stroke-width="1.0"/>
<line x1="310.50" y1="420.50" x2="310.50" y2="422.30" stroke="#4a4a4a" stroke-width="1.0"/>
<line x1="306.50" y1="420.50" x2="314.50" y2="420.50" stroke="#4a4a4a" stroke-width="1.0"/>
<rect x="303.50" y="422.50" width="14.00" height="65.00" fill="#fff" stroke="#3a3a3a" stroke-width="1"/>
<line x1="310.50" y1="487.50" x2="310.50" y2="490.50" stroke="#3a3a3a" stroke-width="1.0"/>
<line x1="334.50" y1="417.50" x2="334.50" y2="419.40" stroke="#4a4a4a" stroke-width="1.0"/>
<line x1="330.50" y1="417.50" x2="338.50" y2="417.50" stroke="#4a4a4a" stroke-width="1.0"/>
<rect x="327.10" y="419.40" width="14.20" height="68.10" fill="#23a7df"/>
<line x1="334.50" y1="487.50" x2="334.50" y2="490.50" stroke="#3a3a3a" stroke-width="1.0"/>
<text transform="translate(269.9,447.5) rotate(-90)" x="0" y="3" font-size="8.6" text-anchor="middle" fill="#505050">Ratio</text>
<text x="321.9" y="401.4" font-size="8.9" text-anchor="middle" fill="#505050" >ns</text>
<text transform="translate(306.70,505.50) rotate(-45)" x="0" y="0" font-size="9.0" text-anchor="middle" fill="#505050">control</text>
<text transform="translate(332.90,513.30) rotate(-45)" x="0" y="0" font-size="9.0" text-anchor="middle" fill="#505050">sh-circEzh2_I</text>
<line x1="459.50" y1="401.80" x2="459.50" y2="487.00" stroke="#3a3a3a" stroke-width="1.0"/>
<line x1="456.00" y1="402.50" x2="459.50" y2="402.50" stroke="#3a3a3a" stroke-width="1.0"/>
<text x="453.5" y="404.8" font-size="8.9" text-anchor="end" fill="#505050" >100</text>
<line x1="456.00" y1="419.50" x2="459.50" y2="419.50" stroke="#3a3a3a" stroke-width="1.0"/>
<text x="453.5" y="421.6" font-size="8.9" text-anchor="end" fill="#505050" >80</text>
<line x1="456.00" y1="435.50" x2="459.50" y2="435.50" stroke="#3a3a3a" stroke-width="1.0"/>
<text x="453.5" y="438.4" font-size="8.9" text-anchor="end" fill="#505050" >60</text>
<line x1="456.00" y1="452.50" x2="459.50" y2="452.50" stroke="#3a3a3a" stroke-width="1.0"/>
<text x="453.5" y="455.3" font-size="8.9" text-anchor="end" fill="#505050" >40</text>
<line x1="456.00" y1="469.50" x2="459.50" y2="469.50" stroke="#3a3a3a" stroke-width="1.0"/>
<text x="453.5" y="472.1" font-size="8.9" text-anchor="end" fill="#505050" >20</text>
<line x1="456.00" y1="486.50" x2="459.50" y2="486.50" stroke="#3a3a3a" stroke-width="1.0"/>
<text x="453.5" y="488.9" font-size="8.9" text-anchor="end" fill="#505050" >0</text>
<line x1="456.00" y1="486.50" x2="515.50" y2="486.50" stroke="#3a3a3a" stroke-width="1.0"/>
<line x1="474.50" y1="422.50" x2="474.50" y2="429.40" stroke="#4a4a4a" stroke-width="1.0"/>
<line x1="470.50" y1="422.50" x2="478.50" y2="422.50" stroke="#4a4a4a" stroke-width="1.0"/>
<rect x="467.50" y="429.50" width="15.00" height="57.00" fill="#fff" stroke="#3a3a3a" stroke-width="1"/>
<line x1="474.50" y1="486.50" x2="474.50" y2="489.50" stroke="#3a3a3a" stroke-width="1.0"/>
<line x1="499.50" y1="412.50" x2="499.50" y2="416.20" stroke="#4a4a4a" stroke-width="1.0"/>
<line x1="495.50" y1="412.50" x2="503.50" y2="412.50" stroke="#4a4a4a" stroke-width="1.0"/>
<rect x="491.60" y="416.20" width="15.00" height="70.30" fill="#8cc540"/>
<line x1="499.50" y1="486.50" x2="499.50" y2="489.50" stroke="#3a3a3a" stroke-width="1.0"/>
<text transform="translate(431.5,443.6) rotate(-90)" x="0" y="3" font-size="8.6" text-anchor="middle" fill="#505050">Area [µm²]</text>
<polyline points="474.8,417.3 474.8,402.6 499.5,402.6 499.5,408.0" fill="none" stroke="#5e5e5e" stroke-width="1.1"/>
<text x="487.4" y="403.4" font-size="10.2" text-anchor="middle" fill="#505050" letter-spacing="0.55">****</text>
<text transform="translate(472.00,508.00) rotate(-45)" x="0" y="0" font-size="9.0" text-anchor="middle" fill="#505050">control</text>
<text transform="translate(490.30,515.70) rotate(-45)" x="0" y="0" font-size="9.0" text-anchor="middle" fill="#505050">sh-circFat3_III</text>
<line x1="539.50" y1="405.00" x2="539.50" y2="487.00" stroke="#3a3a3a" stroke-width="1.0"/>
<line x1="536.00" y1="405.50" x2="539.50" y2="405.50" stroke="#3a3a3a" stroke-width="1.0"/>
<text x="534.7" y="408.0" font-size="8.9" text-anchor="end" fill="#505050" >60</text>
<line x1="536.00" y1="432.50" x2="539.50" y2="432.50" stroke="#3a3a3a" stroke-width="1.0"/>
<text x="534.7" y="434.9" font-size="8.9" text-anchor="end" fill="#505050" >40</text>
<line x1="536.00" y1="459.50" x2="539.50" y2="459.50" stroke="#3a3a3a" stroke-width="1.0"/>
<text x="534.7" y="461.7" font-size="8.9" text-anchor="end" fill="#505050" >20</text>
<line x1="536.00" y1="486.50" x2="539.50" y2="486.50" stroke="#3a3a3a" stroke-width="1.0"/>
<text x="534.7" y="488.6" font-size="8.9" text-anchor="end" fill="#505050" >0</text>
<line x1="536.00" y1="486.50" x2="586.00" y2="486.50" stroke="#3a3a3a" stroke-width="1.0"/>
<line x1="555.50" y1="431.50" x2="555.50" y2="433.80" stroke="#4a4a4a" stroke-width="1.0"/>
<line x1="551.50" y1="431.50" x2="559.50" y2="431.50" stroke="#4a4a4a" stroke-width="1.0"/>
<rect x="548.50" y="434.50" width="14.00" height="52.00" fill="#fff" stroke="#3a3a3a" stroke-width="1"/>
<line x1="555.50" y1="486.50" x2="555.50" y2="489.50" stroke="#3a3a3a" stroke-width="1.0"/>
<line x1="578.50" y1="409.50" x2="578.50" y2="412.80" stroke="#4a4a4a" stroke-width="1.0"/>
<line x1="574.50" y1="409.50" x2="582.50" y2="409.50" stroke="#4a4a4a" stroke-width="1.0"/>
<rect x="571.00" y="412.80" width="14.10" height="73.70" fill="#8cc540"/>
<line x1="578.50" y1="486.50" x2="578.50" y2="489.50" stroke="#3a3a3a" stroke-width="1.0"/>
<text transform="translate(519.7,443.6) rotate(-90)" x="0" y="3" font-size="8.6" text-anchor="middle" fill="#505050">Area [µm²]</text>
<polyline points="554.9,425.7 554.9,400.2 578.6,400.2 578.6,405.5" fill="none" stroke="#5e5e5e" stroke-width="1.1"/>
<text x="567.0" y="402.7" font-size="10.2" text-anchor="middle" fill="#505050" letter-spacing="0.55">****</text>
<text transform="translate(551.40,504.70) rotate(-45)" x="0" y="0" font-size="9.0" text-anchor="middle" fill="#505050">control</text>
<text transform="translate(570.10,515.00) rotate(-45)" x="0" y="0" font-size="9.0" text-anchor="middle" fill="#505050">sh-circFat3_III</text>
<line x1="626.50" y1="397.90" x2="626.50" y2="487.00" stroke="#3a3a3a" stroke-width="1.0"/>
<line x1="623.00" y1="398.50" x2="626.50" y2="398.50" stroke="#3a3a3a" stroke-width="1.0"/>
<text x="620.6" y="400.9" font-size="8.9" text-anchor="end" fill="#505050" >2.0</text>
<line x1="623.00" y1="420.50" x2="626.50" y2="420.50" stroke="#3a3a3a" stroke-width="1.0"/>
<text x="620.6" y="422.8" font-size="8.9" text-anchor="end" fill="#505050" >1.5</text>
<line x1="623.00" y1="442.50" x2="626.50" y2="442.50" stroke="#3a3a3a" stroke-width="1.0"/>
<text x="620.6" y="444.8" font-size="8.9" text-anchor="end" fill="#505050" >1.0</text>
<line x1="623.00" y1="464.50" x2="626.50" y2="464.50" stroke="#3a3a3a" stroke-width="1.0"/>
<text x="620.6" y="466.7" font-size="8.9" text-anchor="end" fill="#505050" >0.5</text>
<line x1="623.00" y1="486.50" x2="626.50" y2="486.50" stroke="#3a3a3a" stroke-width="1.0"/>
<text x="620.6" y="488.6" font-size="8.9" text-anchor="end" fill="#505050" >0.0</text>
<line x1="623.00" y1="486.50" x2="684.00" y2="486.50" stroke="#3a3a3a" stroke-width="1.0"/>
<line x1="642.50" y1="405.50" x2="642.50" y2="411.30" stroke="#4a4a4a" stroke-width="1.0"/>
<line x1="638.50" y1="405.50" x2="646.50" y2="405.50" stroke="#4a4a4a" stroke-width="1.0"/>
<rect x="635.50" y="411.50" width="15.00" height="75.00" fill="#fff" stroke="#3a3a3a" stroke-width="1"/>
<line x1="642.50" y1="486.50" x2="642.50" y2="489.50" stroke="#3a3a3a" stroke-width="1.0"/>
<line x1="667.50" y1="415.50" x2="667.50" y2="418.30" stroke="#4a4a4a" stroke-width="1.0"/>
<line x1="663.50" y1="415.50" x2="671.50" y2="415.50" stroke="#4a4a4a" stroke-width="1.0"/>
<rect x="660.00" y="418.30" width="14.50" height="68.20" fill="#8cc540"/>
<line x1="667.50" y1="486.50" x2="667.50" y2="489.50" stroke="#3a3a3a" stroke-width="1.0"/>
<text transform="translate(602.2,443.6) rotate(-90)" x="0" y="3" font-size="8.6" text-anchor="middle" fill="#505050">Ratio</text>
<text x="655.5" y="401.4" font-size="8.9" text-anchor="middle" fill="#505050" >ns</text>
<text transform="translate(638.00,506.30) rotate(-45)" x="0" y="0" font-size="9.0" text-anchor="middle" fill="#505050">control</text>
<text transform="translate(656.10,517.30) rotate(-45)" x="0" y="0" font-size="9.0" text-anchor="middle" fill="#505050">sh-circFat3_III</text>
<line x1="120.50" y1="580.20" x2="120.50" y2="662.00" stroke="#3a3a3a" stroke-width="1.0"/>
<line x1="117.00" y1="580.50" x2="120.50" y2="580.50" stroke="#3a3a3a" stroke-width="1.0"/>
<text x="115.6" y="583.2" font-size="8.9" text-anchor="end" fill="#505050" >250</text>
<line x1="117.00" y1="596.50" x2="120.50" y2="596.50" stroke="#3a3a3a" stroke-width="1.0"/>
<text x="115.6" y="599.3" font-size="8.9" text-anchor="end" fill="#505050" >200</text>
<line x1="117.00" y1="612.50" x2="120.50" y2="612.50" stroke="#3a3a3a" stroke-width="1.0"/>
<text x="115.6" y="615.4" font-size="8.9" text-anchor="end" fill="#505050" >150</text>
<line x1="117.00" y1="628.50" x2="120.50" y2="628.50" stroke="#3a3a3a" stroke-width="1.0"/>
<text x="115.6" y="631.4" font-size="8.9" text-anchor="end" fill="#505050" >100</text>
<line x1="117.00" y1="645.50" x2="120.50" y2="645.50" stroke="#3a3a3a" stroke-width="1.0"/>
<text x="115.6" y="647.5" font-size="8.9" text-anchor="end" fill="#505050" >50</text>
<line x1="117.00" y1="661.50" x2="120.50" y2="661.50" stroke="#3a3a3a" stroke-width="1.0"/>
<text x="115.6" y="663.6" font-size="8.9" text-anchor="end" fill="#505050" >0</text>
<line x1="117.00" y1="661.50" x2="174.70" y2="661.50" stroke="#3a3a3a" stroke-width="1.0"/>
<line x1="136.50" y1="627.50" x2="136.50" y2="629.30" stroke="#4a4a4a" stroke-width="1.0"/>
<line x1="132.50" y1="627.50" x2="140.50" y2="627.50" stroke="#4a4a4a" stroke-width="1.0"/>
<rect x="129.50" y="629.50" width="14.00" height="32.00" fill="#fff" stroke="#3a3a3a" stroke-width="1"/>
<line x1="136.50" y1="661.50" x2="136.50" y2="664.50" stroke="#3a3a3a" stroke-width="1.0"/>
<line x1="159.50" y1="598.50" x2="159.50" y2="603.30" stroke="#4a4a4a" stroke-width="1.0"/>
<line x1="155.50" y1="598.50" x2="163.50" y2="598.50" stroke="#4a4a4a" stroke-width="1.0"/>
<rect x="152.10" y="603.30" width="14.20" height="58.20" fill="#ea1f7d"/>
<line x1="159.50" y1="661.50" x2="159.50" y2="664.50" stroke="#3a3a3a" stroke-width="1.0"/>
<text transform="translate(95.9,621.5) rotate(-90)" x="0" y="3" font-size="8.6" text-anchor="middle" fill="#505050">Area [µm²]</text>
<polyline points="136.1,622.3 136.1,588.9 159.2,588.9 159.2,593.4" fill="none" stroke="#5e5e5e" stroke-width="1.1"/>
<text x="147.4" y="590.0" font-size="10.2" text-anchor="middle" fill="#505050" letter-spacing="0.55">****</text>
<text transform="translate(134.30,679.00) rotate(-45)" x="0" y="0" font-size="9.0" text-anchor="middle" fill="#505050">control</text>
<text transform="translate(153.10,689.00) rotate(-45)" x="0" y="0" font-size="9.0" text-anchor="middle" fill="#505050">sh-circRmst_I</text>
<line x1="209.50" y1="579.70" x2="209.50" y2="662.00" stroke="#3a3a3a" stroke-width="1.0"/>
<line x1="206.00" y1="580.50" x2="209.50" y2="580.50" stroke="#3a3a3a" stroke-width="1.0"/>
<text x="204.2" y="582.7" font-size="8.9" text-anchor="end" fill="#505050" >60</text>
<line x1="206.00" y1="607.50" x2="209.50" y2="607.50" stroke="#3a3a3a" stroke-width="1.0"/>
<text x="204.2" y="609.7" font-size="8.9" text-anchor="end" fill="#505050" >40</text>
<line x1="206.00" y1="634.50" x2="209.50" y2="634.50" stroke="#3a3a3a" stroke-width="1.0"/>
<text x="204.2" y="636.6" font-size="8.9" text-anchor="end" fill="#505050" >20</text>
<line x1="206.00" y1="661.50" x2="209.50" y2="661.50" stroke="#3a3a3a" stroke-width="1.0"/>
<text x="204.2" y="663.6" font-size="8.9" text-anchor="end" fill="#505050" >0</text>
<line x1="206.00" y1="661.50" x2="263.80" y2="661.50" stroke="#3a3a3a" stroke-width="1.0"/>
<line x1="224.50" y1="597.50" x2="224.50" y2="599.10" stroke="#4a4a4a" stroke-width="1.0"/>
<line x1="220.50" y1="597.50" x2="228.50" y2="597.50" stroke="#4a4a4a" stroke-width="1.0"/>
<rect x="218.50" y="599.50" width="13.00" height="62.00" fill="#fff" stroke="#3a3a3a" stroke-width="1"/>
<line x1="224.50" y1="661.50" x2="224.50" y2="664.50" stroke="#3a3a3a" stroke-width="1.0"/>
<line x1="248.50" y1="586.50" x2="248.50" y2="590.20" stroke="#4a4a4a" stroke-width="1.0"/>
<line x1="244.50" y1="586.50" x2="252.50" y2="586.50" stroke="#4a4a4a" stroke-width="1.0"/>
<rect x="240.90" y="590.20" width="14.20" height="71.30" fill="#ea1f7d"/>
<line x1="248.50" y1="661.50" x2="248.50" y2="664.50" stroke="#3a3a3a" stroke-width="1.0"/>
<text transform="translate(187.6,621.5) rotate(-90)" x="0" y="3" font-size="8.6" text-anchor="middle" fill="#505050">Area [µm²]</text>
<text x="233.0" y="582.7" font-size="8.9" text-anchor="middle" fill="#505050" >ns</text>
<text transform="translate(224.50,678.50) rotate(-45)" x="0" y="0" font-size="9.0" text-anchor="middle" fill="#505050">control</text>
<text transform="translate(243.50,687.80) rotate(-45)" x="0" y="0" font-size="9.0" text-anchor="middle" fill="#505050">sh-circRmst_I</text>
<line x1="292.50" y1="580.20" x2="292.50" y2="663.00" stroke="#3a3a3a" stroke-width="1.0"/>
<line x1="289.00" y1="580.50" x2="292.50" y2="580.50" stroke="#3a3a3a" stroke-width="1.0"/>
<text x="288.2" y="583.2" font-size="8.9" text-anchor="end" fill="#505050" >4</text>
<line x1="289.00" y1="601.50" x2="292.50" y2="601.50" stroke="#3a3a3a" stroke-width="1.0"/>
<text x="288.2" y="603.7" font-size="8.9" text-anchor="end" fill="#505050" >3</text>
<line x1="289.00" y1="621.50" x2="292.50" y2="621.50" stroke="#3a3a3a" stroke-width="1.0"/>
<text x="288.2" y="624.1" font-size="8.9" text-anchor="end" fill="#505050" >2</text>
<line x1="289.00" y1="642.50" x2="292.50" y2="642.50" stroke="#3a3a3a" stroke-width="1.0"/>
<text x="288.2" y="644.5" font-size="8.9" text-anchor="end" fill="#505050" >1</text>
<line x1="289.00" y1="662.50" x2="292.50" y2="662.50" stroke="#3a3a3a" stroke-width="1.0"/>
<text x="288.2" y="665.0" font-size="8.9" text-anchor="end" fill="#505050" >0</text>
<line x1="289.00" y1="662.50" x2="350.00" y2="662.50" stroke="#3a3a3a" stroke-width="1.0"/>
<line x1="309.50" y1="617.50" x2="309.50" y2="619.60" stroke="#4a4a4a" stroke-width="1.0"/>
<line x1="305.50" y1="617.50" x2="313.50" y2="617.50" stroke="#4a4a4a" stroke-width="1.0"/>
<rect x="302.50" y="620.50" width="15.00" height="42.00" fill="#fff" stroke="#3a3a3a" stroke-width="1"/>
<line x1="309.50" y1="662.50" x2="309.50" y2="665.50" stroke="#3a3a3a" stroke-width="1.0"/>
<line x1="333.50" y1="597.50" x2="333.50" y2="601.20" stroke="#4a4a4a" stroke-width="1.0"/>
<line x1="329.50" y1="597.50" x2="337.50" y2="597.50" stroke="#4a4a4a" stroke-width="1.0"/>
<rect x="326.60" y="601.20" width="14.40" height="61.30" fill="#ea1f7d"/>
<line x1="333.50" y1="662.50" x2="333.50" y2="665.50" stroke="#3a3a3a" stroke-width="1.0"/>
<text transform="translate(268.6,621.0) rotate(-90)" x="0" y="3" font-size="8.6" text-anchor="middle" fill="#505050">Ratio</text>
<polyline points="309.3,613.0 309.3,587.3 333.7,587.3 333.7,592.6" fill="none" stroke="#5e5e5e" stroke-width="1.1"/>
<text x="321.9" y="589.2" font-size="10.2" text-anchor="middle" fill="#505050" letter-spacing="0.55">****</text>
<text transform="translate(309.50,681.50) rotate(-45)" x="0" y="0" font-size="9.0" text-anchor="middle" fill="#505050">control</text>
<text transform="translate(328.50,690.20) rotate(-45)" x="0" y="0" font-size="9.0" text-anchor="middle" fill="#505050">sh-circRmst_I</text>
<line x1="458.50" y1="572.60" x2="458.50" y2="659.00" stroke="#3a3a3a" stroke-width="1.0"/>
<line x1="455.00" y1="573.50" x2="458.50" y2="573.50" stroke="#3a3a3a" stroke-width="1.0"/>
<text x="452.5" y="575.6" font-size="8.9" text-anchor="end" fill="#505050" >80</text>
<line x1="455.00" y1="594.50" x2="458.50" y2="594.50" stroke="#3a3a3a" stroke-width="1.0"/>
<text x="452.5" y="596.8" font-size="8.9" text-anchor="end" fill="#505050" >60</text>
<line x1="455.00" y1="615.50" x2="458.50" y2="615.50" stroke="#3a3a3a" stroke-width="1.0"/>
<text x="452.5" y="618.0" font-size="8.9" text-anchor="end" fill="#505050" >40</text>
<line x1="455.00" y1="636.50" x2="458.50" y2="636.50" stroke="#3a3a3a" stroke-width="1.0"/>
<text x="452.5" y="639.3" font-size="8.9" text-anchor="end" fill="#505050" >20</text>
<line x1="455.00" y1="658.50" x2="458.50" y2="658.50" stroke="#3a3a3a" stroke-width="1.0"/>
<text x="452.5" y="660.5" font-size="8.9" text-anchor="end" fill="#505050" >0</text>
<line x1="455.00" y1="658.50" x2="515.50" y2="658.50" stroke="#3a3a3a" stroke-width="1.0"/>
<line x1="474.50" y1="593.50" x2="474.50" y2="595.50" stroke="#4a4a4a" stroke-width="1.0"/>
<line x1="470.50" y1="593.50" x2="478.50" y2="593.50" stroke="#4a4a4a" stroke-width="1.0"/>
<rect x="467.50" y="596.50" width="15.00" height="62.00" fill="#fff" stroke="#3a3a3a" stroke-width="1"/>
<line x1="474.50" y1="658.50" x2="474.50" y2="661.50" stroke="#3a3a3a" stroke-width="1.0"/>
<line x1="499.50" y1="596.50" x2="499.50" y2="598.90" stroke="#4a4a4a" stroke-width="1.0"/>
<line x1="495.50" y1="596.50" x2="503.50" y2="596.50" stroke="#4a4a4a" stroke-width="1.0"/>
<rect x="491.60" y="598.90" width="15.00" height="59.60" fill="#f6931e"/>
<line x1="499.50" y1="658.50" x2="499.50" y2="661.50" stroke="#3a3a3a" stroke-width="1.0"/>
<text transform="translate(433.0,613.6) rotate(-90)" x="0" y="3" font-size="8.6" text-anchor="middle" fill="#505050">Area [µm²]</text>
<text x="487.9" y="582.7" font-size="8.9" text-anchor="middle" fill="#505050" >ns</text>
<text transform="translate(472.00,678.00) rotate(-45)" x="0" y="0" font-size="9.0" text-anchor="middle" fill="#505050">control</text>
<text transform="translate(491.50,685.70) rotate(-45)" x="0" y="0" font-size="9.0" text-anchor="middle" fill="#505050">sh-circTulp4_II</text>
<line x1="542.50" y1="573.10" x2="542.50" y2="658.00" stroke="#3a3a3a" stroke-width="1.0"/>
<line x1="539.00" y1="573.50" x2="542.50" y2="573.50" stroke="#3a3a3a" stroke-width="1.0"/>
<text x="536.0" y="576.1" font-size="8.9" text-anchor="end" fill="#505050" >50</text>
<line x1="539.00" y1="590.50" x2="542.50" y2="590.50" stroke="#3a3a3a" stroke-width="1.0"/>
<text x="536.0" y="592.9" font-size="8.9" text-anchor="end" fill="#505050" >40</text>
<line x1="539.00" y1="607.50" x2="542.50" y2="607.50" stroke="#3a3a3a" stroke-width="1.0"/>
<text x="536.0" y="609.7" font-size="8.9" text-anchor="end" fill="#505050" >30</text>
<line x1="539.00" y1="624.50" x2="542.50" y2="624.50" stroke="#3a3a3a" stroke-width="1.0"/>
<text x="536.0" y="626.6" font-size="8.9" text-anchor="end" fill="#505050" >20</text>
<line x1="539.00" y1="640.50" x2="542.50" y2="640.50" stroke="#3a3a3a" stroke-width="1.0"/>
<text x="536.0" y="643.4" font-size="8.9" text-anchor="end" fill="#505050" >10</text>
<line x1="539.00" y1="657.50" x2="542.50" y2="657.50" stroke="#3a3a3a" stroke-width="1.0"/>
<text x="536.0" y="660.2" font-size="8.9" text-anchor="end" fill="#505050" >0</text>
<line x1="539.00" y1="657.50" x2="598.80" y2="657.50" stroke="#3a3a3a" stroke-width="1.0"/>
<line x1="558.50" y1="587.50" x2="558.50" y2="590.20" stroke="#4a4a4a" stroke-width="1.0"/>
<line x1="554.50" y1="587.50" x2="562.50" y2="587.50" stroke="#4a4a4a" stroke-width="1.0"/>
<rect x="551.50" y="590.50" width="14.00" height="67.00" fill="#fff" stroke="#3a3a3a" stroke-width="1"/>
<line x1="558.50" y1="657.50" x2="558.50" y2="660.50" stroke="#3a3a3a" stroke-width="1.0"/>
<line x1="582.50" y1="592.50" x2="582.50" y2="594.70" stroke="#4a4a4a" stroke-width="1.0"/>
<line x1="578.50" y1="592.50" x2="586.50" y2="592.50" stroke="#4a4a4a" stroke-width="1.0"/>
<rect x="575.20" y="594.70" width="14.70" height="62.80" fill="#f6931e"/>
<line x1="582.50" y1="657.50" x2="582.50" y2="660.50" stroke="#3a3a3a" stroke-width="1.0"/>
<text transform="translate(519.5,613.6) rotate(-90)" x="0" y="3" font-size="8.6" text-anchor="middle" fill="#505050">Area [µm²]</text>
<text x="570.7" y="582.7" font-size="8.9" text-anchor="middle" fill="#505050" >ns</text>
<text transform="translate(556.90,677.00) rotate(-45)" x="0" y="0" font-size="9.0" text-anchor="middle" fill="#505050">control</text>
<text transform="translate(575.90,685.00) rotate(-45)" x="0" y="0" font-size="9.0" text-anchor="middle" fill="#505050">sh-circTulp4_II</text>
<line x1="625.50" y1="572.60" x2="625.50" y2="658.00" stroke="#3a3a3a" stroke-width="1.0"/>
<line x1="622.00" y1="573.50" x2="625.50" y2="573.50" stroke="#3a3a3a" stroke-width="1.0"/>
<text x="621.4" y="575.6" font-size="8.9" text-anchor="end" fill="#505050" >2.0</text>
<line x1="622.00" y1="594.50" x2="625.50" y2="594.50" stroke="#3a3a3a" stroke-width="1.0"/>
<text x="621.4" y="596.6" font-size="8.9" text-anchor="end" fill="#505050" >1.5</text>
<line x1="622.00" y1="615.50" x2="625.50" y2="615.50" stroke="#3a3a3a" stroke-width="1.0"/>
<text x="621.4" y="617.7" font-size="8.9" text-anchor="end" fill="#505050" >1.0</text>
<line x1="622.00" y1="636.50" x2="625.50" y2="636.50" stroke="#3a3a3a" stroke-width="1.0"/>
<text x="621.4" y="638.7" font-size="8.9" text-anchor="end" fill="#505050" >0.5</text>
<line x1="622.00" y1="657.50" x2="625.50" y2="657.50" stroke="#3a3a3a" stroke-width="1.0"/>
<text x="621.4" y="659.7" font-size="8.9" text-anchor="end" fill="#505050" >0.0</text>
<line x1="622.00" y1="657.50" x2="685.00" y2="657.50" stroke="#3a3a3a" stroke-width="1.0"/>
<line x1="644.50" y1="591.50" x2="644.50" y2="593.40" stroke="#4a4a4a" stroke-width="1.0"/>
<line x1="640.50" y1="591.50" x2="648.50" y2="591.50" stroke="#4a4a4a" stroke-width="1.0"/>
<rect x="636.50" y="593.50" width="15.00" height="64.00" fill="#fff" stroke="#3a3a3a" stroke-width="1"/>
<line x1="644.50" y1="657.50" x2="644.50" y2="660.50" stroke="#3a3a3a" stroke-width="1.0"/>
<line x1="668.50" y1="592.50" x2="668.50" y2="595.20" stroke="#4a4a4a" stroke-width="1.0"/>
<line x1="664.50" y1="592.50" x2="672.50" y2="592.50" stroke="#4a4a4a" stroke-width="1.0"/>
<rect x="661.10" y="595.20" width="14.70" height="62.30" fill="#f6931e"/>
<line x1="668.50" y1="657.50" x2="668.50" y2="660.50" stroke="#3a3a3a" stroke-width="1.0"/>
<text transform="translate(603.0,613.1) rotate(-90)" x="0" y="3" font-size="8.6" text-anchor="middle" fill="#505050">Ratio</text>
<text x="655.3" y="582.7" font-size="8.9" text-anchor="middle" fill="#505050" >ns</text>
<text transform="translate(641.50,676.00) rotate(-45)" x="0" y="0" font-size="9.0" text-anchor="middle" fill="#505050">control</text>
<text transform="translate(661.00,685.00) rotate(-45)" x="0" y="0" font-size="9.0" text-anchor="middle" fill="#505050">sh-circTulp4_II</text>
<line x1="121.50" y1="757.10" x2="121.50" y2="837.00" stroke="#3a3a3a" stroke-width="1.0"/>
<line x1="118.00" y1="757.50" x2="121.50" y2="757.50" stroke="#3a3a3a" stroke-width="1.0"/>
<text x="115.6" y="760.1" font-size="8.9" text-anchor="end" fill="#505050" >5</text>
<line x1="118.00" y1="773.50" x2="121.50" y2="773.50" stroke="#3a3a3a" stroke-width="1.0"/>
<text x="115.6" y="775.8" font-size="8.9" text-anchor="end" fill="#505050" >4</text>
<line x1="118.00" y1="789.50" x2="121.50" y2="789.50" stroke="#3a3a3a" stroke-width="1.0"/>
<text x="115.6" y="791.5" font-size="8.9" text-anchor="end" fill="#505050" >3</text>
<line x1="118.00" y1="804.50" x2="121.50" y2="804.50" stroke="#3a3a3a" stroke-width="1.0"/>
<text x="115.6" y="807.2" font-size="8.9" text-anchor="end" fill="#505050" >2</text>
<line x1="118.00" y1="820.50" x2="121.50" y2="820.50" stroke="#3a3a3a" stroke-width="1.0"/>
<text x="115.6" y="822.9" font-size="8.9" text-anchor="end" fill="#505050" >1</text>
<line x1="118.00" y1="836.50" x2="121.50" y2="836.50" stroke="#3a3a3a" stroke-width="1.0"/>
<text x="115.6" y="838.6" font-size="8.9" text-anchor="end" fill="#505050" >0</text>
<line x1="118.00" y1="836.50" x2="174.70" y2="836.50" stroke="#3a3a3a" stroke-width="1.0"/>
<line x1="136.50" y1="781.50" x2="136.50" y2="788.10" stroke="#4a4a4a" stroke-width="1.0"/>
<line x1="132.50" y1="781.50" x2="140.50" y2="781.50" stroke="#4a4a4a" stroke-width="1.0"/>
<rect x="130.50" y="788.50" width="13.00" height="48.00" fill="#fff" stroke="#3a3a3a" stroke-width="1"/>
<line x1="136.50" y1="788.10" x2="136.50" y2="793.50" stroke="#4a4a4a" stroke-width="1.0"/>
<line x1="132.50" y1="793.50" x2="140.50" y2="793.50" stroke="#4a4a4a" stroke-width="1.0"/>
<line x1="136.50" y1="781.50" x2="136.50" y2="788.10" stroke="#4a4a4a" stroke-width="1.0"/>
<line x1="136.50" y1="836.50" x2="136.50" y2="839.50" stroke="#3a3a3a" stroke-width="1.0"/>
<line x1="159.50" y1="777.50" x2="159.50" y2="781.50" stroke="#4a4a4a" stroke-width="1.0"/>
<line x1="155.50" y1="777.50" x2="163.50" y2="777.50" stroke="#4a4a4a" stroke-width="1.0"/>
<rect x="152.50" y="782.50" width="14.00" height="54.00" fill="#bfe4f7" stroke="#23a7df" stroke-width="1"/>
<line x1="159.50" y1="781.50" x2="159.50" y2="785.50" stroke="#4a4a4a" stroke-width="1.0"/>
<line x1="155.50" y1="785.50" x2="163.50" y2="785.50" stroke="#4a4a4a" stroke-width="1.0"/>
<line x1="159.50" y1="777.50" x2="159.50" y2="781.50" stroke="#4a4a4a" stroke-width="1.0"/>
<line x1="159.50" y1="836.50" x2="159.50" y2="839.50" stroke="#3a3a3a" stroke-width="1.0"/>
<circle cx="136.9" cy="771.0" r="1.85" fill="#111"/>
<circle cx="136.9" cy="775.5" r="1.85" fill="#111"/>
<circle cx="136.9" cy="783.4" r="1.85" fill="#111"/>
<circle cx="136.9" cy="785.9" r="1.85" fill="#111"/>
<circle cx="136.7" cy="803.4" r="1.85" fill="#111"/>
<circle cx="136.7" cy="806.0" r="1.85" fill="#111"/>
<rect x="155.55" y="773.05" width="3.1" height="3.1" fill="#23a7df"/>
<rect x="160.15" y="770.85" width="3.1" height="3.1" fill="#23a7df"/>
<rect x="155.55" y="776.95" width="3.1" height="3.1" fill="#23a7df"/>
<rect x="160.35" y="776.65" width="3.1" height="3.1" fill="#23a7df"/>
<rect x="157.95" y="781.65" width="3.1" height="3.1" fill="#23a7df"/>
<rect x="157.95" y="798.85" width="3.1" height="3.1" fill="#23a7df"/>
<text transform="translate(105.1,800.9) rotate(-90)" x="0" y="3" font-size="8.6" text-anchor="middle" fill="#505050">% TH neurons</text>
<text x="149.2" y="761.6" font-size="8.9" text-anchor="middle" fill="#505050" >ns</text>
<text transform="translate(135.60,854.50) rotate(-45)" x="0" y="0" font-size="9.0" text-anchor="middle" fill="#505050">control</text>
<text transform="translate(150.00,864.00) rotate(-45)" x="0" y="0" font-size="9.0" text-anchor="middle" fill="#505050">sh-circEzh2_I</text>
<line x1="206.50" y1="757.90" x2="206.50" y2="837.00" stroke="#3a3a3a" stroke-width="1.0"/>
<line x1="203.00" y1="758.50" x2="206.50" y2="758.50" stroke="#3a3a3a" stroke-width="1.0"/>
<text x="201.5" y="760.9" font-size="8.9" text-anchor="end" fill="#505050" >5</text>
<line x1="203.00" y1="774.50" x2="206.50" y2="774.50" stroke="#3a3a3a" stroke-width="1.0"/>
<text x="201.5" y="776.5" font-size="8.9" text-anchor="end" fill="#505050" >4</text>
<line x1="203.00" y1="789.50" x2="206.50" y2="789.50" stroke="#3a3a3a" stroke-width="1.0"/>
<text x="201.5" y="792.1" font-size="8.9" text-anchor="end" fill="#505050" >3</text>
<line x1="203.00" y1="805.50" x2="206.50" y2="805.50" stroke="#3a3a3a" stroke-width="1.0"/>
<text x="201.5" y="807.7" font-size="8.9" text-anchor="end" fill="#505050" >2</text>
<line x1="203.00" y1="820.50" x2="206.50" y2="820.50" stroke="#3a3a3a" stroke-width="1.0"/>
<text x="201.5" y="823.3" font-size="8.9" text-anchor="end" fill="#505050" >1</text>
<line x1="203.00" y1="836.50" x2="206.50" y2="836.50" stroke="#3a3a3a" stroke-width="1.0"/>
<text x="201.5" y="838.9" font-size="8.9" text-anchor="end" fill="#505050" >0</text>
<line x1="203.00" y1="836.50" x2="263.50" y2="836.50" stroke="#3a3a3a" stroke-width="1.0"/>
<line x1="222.50" y1="785.50" x2="222.50" y2="795.50" stroke="#4a4a4a" stroke-width="1.0"/>
<line x1="218.50" y1="785.50" x2="226.50" y2="785.50" stroke="#4a4a4a" stroke-width="1.0"/>
<rect x="215.50" y="796.50" width="14.00" height="40.00" fill="#fff" stroke="#3a3a3a" stroke-width="1"/>
<line x1="222.50" y1="795.50" x2="222.50" y2="803.50" stroke="#4a4a4a" stroke-width="1.0"/>
<line x1="218.50" y1="803.50" x2="226.50" y2="803.50" stroke="#4a4a4a" stroke-width="1.0"/>
<line x1="222.50" y1="785.50" x2="222.50" y2="795.50" stroke="#4a4a4a" stroke-width="1.0"/>
<line x1="222.50" y1="836.50" x2="222.50" y2="839.50" stroke="#3a3a3a" stroke-width="1.0"/>
<line x1="246.50" y1="786.50" x2="246.50" y2="792.30" stroke="#4a4a4a" stroke-width="1.0"/>
<line x1="242.50" y1="786.50" x2="250.50" y2="786.50" stroke="#4a4a4a" stroke-width="1.0"/>
<rect x="239.50" y="792.50" width="15.00" height="44.00" fill="#dcecce" stroke="#8cc540" stroke-width="1"/>
<line x1="246.50" y1="792.30" x2="246.50" y2="796.50" stroke="#4a4a4a" stroke-width="1.0"/>
<line x1="242.50" y1="796.50" x2="250.50" y2="796.50" stroke="#4a4a4a" stroke-width="1.0"/>
<line x1="246.50" y1="786.50" x2="246.50" y2="792.30" stroke="#4a4a4a" stroke-width="1.0"/>
<line x1="246.50" y1="836.50" x2="246.50" y2="839.50" stroke="#3a3a3a" stroke-width="1.0"/>
<circle cx="222.4" cy="768.0" r="1.85" fill="#111"/>
<circle cx="222.4" cy="798.3" r="1.85" fill="#111"/>
<circle cx="222.4" cy="804.5" r="1.85" fill="#111"/>
<circle cx="222.4" cy="806.7" r="1.85" fill="#111"/>
<rect x="242.95" y="775.95" width="3.1" height="3.1" fill="#8cc540"/>
<rect x="248.05" y="775.05" width="3.1" height="3.1" fill="#8cc540"/>
<rect x="242.95" y="786.05" width="3.1" height="3.1" fill="#8cc540"/>
<rect x="242.95" y="789.15" width="3.1" height="3.1" fill="#8cc540"/>
<rect x="248.05" y="788.05" width="3.1" height="3.1" fill="#8cc540"/>
<rect x="245.35" y="806.65" width="3.1" height="3.1" fill="#8cc540"/>
<rect x="245.35" y="808.85" width="3.1" height="3.1" fill="#8cc540"/>
<text transform="translate(191.3,801.0) rotate(-90)" x="0" y="3" font-size="8.6" text-anchor="middle" fill="#505050">% TH neurons</text>
<text x="233.8" y="761.4" font-size="8.9" text-anchor="middle" fill="#505050" >ns</text>
<text transform="translate(222.80,854.00) rotate(-45)" x="0" y="0" font-size="9.0" text-anchor="middle" fill="#505050">control</text>
<text transform="translate(238.20,865.00) rotate(-45)" x="0" y="0" font-size="9.0" text-anchor="middle" fill="#505050">sh-circFat3_III</text>
<line x1="293.50" y1="758.70" x2="293.50" y2="837.00" stroke="#3a3a3a" stroke-width="1.0"/>
<line x1="290.00" y1="759.50" x2="293.50" y2="759.50" stroke="#3a3a3a" stroke-width="1.0"/>
<text x="289.5" y="761.7" font-size="8.9" text-anchor="end" fill="#505050" >6</text>
<line x1="290.00" y1="784.50" x2="293.50" y2="784.50" stroke="#3a3a3a" stroke-width="1.0"/>
<text x="289.5" y="787.4" font-size="8.9" text-anchor="end" fill="#505050" >4</text>
<line x1="290.00" y1="810.50" x2="293.50" y2="810.50" stroke="#3a3a3a" stroke-width="1.0"/>
<text x="289.5" y="813.2" font-size="8.9" text-anchor="end" fill="#505050" >2</text>
<line x1="290.00" y1="836.50" x2="293.50" y2="836.50" stroke="#3a3a3a" stroke-width="1.0"/>
<text x="289.5" y="838.9" font-size="8.9" text-anchor="end" fill="#505050" >0</text>
<line x1="290.00" y1="836.50" x2="349.30" y2="836.50" stroke="#3a3a3a" stroke-width="1.0"/>
<line x1="308.50" y1="772.50" x2="308.50" y2="775.10" stroke="#4a4a4a" stroke-width="1.0"/>
<line x1="304.50" y1="772.50" x2="312.50" y2="772.50" stroke="#4a4a4a" stroke-width="1.0"/>
<rect x="301.50" y="775.50" width="15.00" height="61.00" fill="#fff" stroke="#3a3a3a" stroke-width="1"/>
<line x1="308.50" y1="775.10" x2="308.50" y2="777.50" stroke="#4a4a4a" stroke-width="1.0"/>
<line x1="304.50" y1="777.50" x2="312.50" y2="777.50" stroke="#4a4a4a" stroke-width="1.0"/>
<line x1="308.50" y1="772.50" x2="308.50" y2="775.10" stroke="#4a4a4a" stroke-width="1.0"/>
<line x1="308.50" y1="836.50" x2="308.50" y2="839.50" stroke="#3a3a3a" stroke-width="1.0"/>
<line x1="333.50" y1="782.50" x2="333.50" y2="786.80" stroke="#4a4a4a" stroke-width="1.0"/>
<line x1="329.50" y1="782.50" x2="337.50" y2="782.50" stroke="#4a4a4a" stroke-width="1.0"/>
<rect x="325.50" y="787.50" width="15.00" height="49.00" fill="#efb3d2" stroke="#ea1f7d" stroke-width="1"/>
<line x1="333.50" y1="786.80" x2="333.50" y2="790.50" stroke="#4a4a4a" stroke-width="1.0"/>
<line x1="329.50" y1="790.50" x2="337.50" y2="790.50" stroke="#4a4a4a" stroke-width="1.0"/>
<line x1="333.50" y1="782.50" x2="333.50" y2="786.80" stroke="#4a4a4a" stroke-width="1.0"/>
<line x1="333.50" y1="836.50" x2="333.50" y2="839.50" stroke="#3a3a3a" stroke-width="1.0"/>
<circle cx="306.4" cy="773.4" r="1.85" fill="#111"/>
<circle cx="311.4" cy="771.9" r="1.85" fill="#111"/>
<circle cx="311.8" cy="776.3" r="1.85" fill="#111"/>
<circle cx="306.4" cy="777.0" r="1.85" fill="#111"/>
<circle cx="308.9" cy="774.8" r="1.85" fill="#111"/>
<rect x="328.95" y="778.35" width="3.1" height="3.1" fill="#ea1f7d"/>
<rect x="334.05" y="778.35" width="3.1" height="3.1" fill="#ea1f7d"/>
<rect x="328.95" y="791.95" width="3.1" height="3.1" fill="#ea1f7d"/>
<rect x="334.65" y="790.75" width="3.1" height="3.1" fill="#ea1f7d"/>
<text transform="translate(279.8,800.4) rotate(-90)" x="0" y="3" font-size="8.6" text-anchor="middle" fill="#505050">% TH neurons</text>
<polyline points="308.9,766.8 308.9,762.4 333.0,762.4 333.0,774.1" fill="none" stroke="#5e5e5e" stroke-width="1.1"/>
<text x="321.9" y="763.3" font-size="10.2" text-anchor="middle" fill="#505050" letter-spacing="0.55">****</text>
<text transform="translate(306.30,854.00) rotate(-45)" x="0" y="0" font-size="9.0" text-anchor="middle" fill="#505050">control</text>
<text transform="translate(322.80,863.00) rotate(-45)" x="0" y="0" font-size="9.0" text-anchor="middle" fill="#505050">sh-circRmst_I</text>
<line x1="377.50" y1="757.90" x2="377.50" y2="837.00" stroke="#3a3a3a" stroke-width="1.0"/>
<line x1="374.00" y1="758.50" x2="377.50" y2="758.50" stroke="#3a3a3a" stroke-width="1.0"/>
<text x="373.6" y="760.9" font-size="8.9" text-anchor="end" fill="#505050" >10</text>
<line x1="374.00" y1="774.50" x2="377.50" y2="774.50" stroke="#3a3a3a" stroke-width="1.0"/>
<text x="373.6" y="776.5" font-size="8.9" text-anchor="end" fill="#505050" >8</text>
<line x1="374.00" y1="789.50" x2="377.50" y2="789.50" stroke="#3a3a3a" stroke-width="1.0"/>
<text x="373.6" y="792.1" font-size="8.9" text-anchor="end" fill="#505050" >6</text>
<line x1="374.00" y1="805.50" x2="377.50" y2="805.50" stroke="#3a3a3a" stroke-width="1.0"/>
<text x="373.6" y="807.7" font-size="8.9" text-anchor="end" fill="#505050" >4</text>
<line x1="374.00" y1="820.50" x2="377.50" y2="820.50" stroke="#3a3a3a" stroke-width="1.0"/>
<text x="373.6" y="823.3" font-size="8.9" text-anchor="end" fill="#505050" >2</text>
<line x1="374.00" y1="836.50" x2="377.50" y2="836.50" stroke="#3a3a3a" stroke-width="1.0"/>
<text x="373.6" y="838.9" font-size="8.9" text-anchor="end" fill="#505050" >0</text>
<line x1="374.00" y1="836.50" x2="439.30" y2="836.50" stroke="#3a3a3a" stroke-width="1.0"/>
<line x1="394.50" y1="779.50" x2="394.50" y2="786.30" stroke="#4a4a4a" stroke-width="1.0"/>
<line x1="390.50" y1="779.50" x2="398.50" y2="779.50" stroke="#4a4a4a" stroke-width="1.0"/>
<rect x="386.50" y="786.50" width="16.00" height="50.00" fill="#fff" stroke="#3a3a3a" stroke-width="1"/>
<line x1="394.50" y1="786.30" x2="394.50" y2="793.50" stroke="#4a4a4a" stroke-width="1.0"/>
<line x1="390.50" y1="793.50" x2="398.50" y2="793.50" stroke="#4a4a4a" stroke-width="1.0"/>
<line x1="394.50" y1="779.50" x2="394.50" y2="786.30" stroke="#4a4a4a" stroke-width="1.0"/>
<line x1="394.50" y1="836.50" x2="394.50" y2="839.50" stroke="#3a3a3a" stroke-width="1.0"/>
<line x1="421.50" y1="790.50" x2="421.50" y2="796.80" stroke="#4a4a4a" stroke-width="1.0"/>
<line x1="417.50" y1="790.50" x2="425.50" y2="790.50" stroke="#4a4a4a" stroke-width="1.0"/>
<rect x="413.50" y="797.50" width="16.00" height="39.00" fill="#f5d4b0" stroke="#f6931e" stroke-width="1"/>
<line x1="421.50" y1="796.80" x2="421.50" y2="801.50" stroke="#4a4a4a" stroke-width="1.0"/>
<line x1="417.50" y1="801.50" x2="425.50" y2="801.50" stroke="#4a4a4a" stroke-width="1.0"/>
<line x1="421.50" y1="790.50" x2="421.50" y2="796.80" stroke="#4a4a4a" stroke-width="1.0"/>
<line x1="421.50" y1="836.50" x2="421.50" y2="839.50" stroke="#3a3a3a" stroke-width="1.0"/>
<circle cx="394.9" cy="764.1" r="1.85" fill="#111"/>
<circle cx="394.9" cy="773.6" r="1.85" fill="#111"/>
<circle cx="394.9" cy="782.5" r="1.85" fill="#111"/>
<circle cx="394.9" cy="785.5" r="1.85" fill="#111"/>
<circle cx="392.0" cy="806.6" r="1.85" fill="#111"/>
<circle cx="397.5" cy="804.4" r="1.85" fill="#111"/>
<rect x="416.85" y="780.95" width="3.1" height="3.1" fill="#f6931e"/>
<rect x="422.45" y="779.75" width="3.1" height="3.1" fill="#f6931e"/>
<rect x="419.65" y="787.05" width="3.1" height="3.1" fill="#f6931e"/>
<rect x="419.65" y="802.05" width="3.1" height="3.1" fill="#f6931e"/>
<rect x="419.65" y="807.65" width="3.1" height="3.1" fill="#f6931e"/>
<rect x="419.65" y="810.05" width="3.1" height="3.1" fill="#f6931e"/>
<text transform="translate(359.4,801.0) rotate(-90)" x="0" y="3" font-size="8.6" text-anchor="middle" fill="#505050">% TH neurons</text>
<text x="406.5" y="761.4" font-size="8.9" text-anchor="middle" fill="#505050" >ns</text>
<text transform="translate(393.70,854.50) rotate(-45)" x="0" y="0" font-size="9.0" text-anchor="middle" fill="#505050">control</text>
<text transform="translate(414.10,864.00) rotate(-45)" x="0" y="0" font-size="9.0" text-anchor="middle" fill="#505050">sh-circTulp4_II</text>
<text x="4.3" y="8" font-size="12" font-weight="bold" fill="#1a1a1a">a</text>
<text x="211.3" y="8" font-size="12" font-weight="bold" fill="#1a1a1a">b</text>
<text x="4.3" y="171" font-size="12" font-weight="bold" fill="#1a1a1a">c</text>
<text x="340.2" y="202.5" font-size="12" font-weight="bold" fill="#1a1a1a">d</text>
<text x="4.3" y="385.8" font-size="12" font-weight="bold" fill="#1a1a1a">e</text>
<text x="414.2" y="386.3" font-size="12" font-weight="bold" fill="#1a1a1a">f</text>
<text x="90.3" y="558.5" font-size="12" font-weight="bold" fill="#1a1a1a">g</text>
<text x="414.6" y="558.7" font-size="12" font-weight="bold" fill="#1a1a1a">h</text>
<text x="4.8" y="731" font-size="12" font-weight="bold" fill="#1a1a1a">i</text>
<text x="458" y="24.8" font-size="10" letter-spacing="0.37" text-anchor="start" fill="#505050">Average neurite length</text>
<line x1="365.00" y1="35.50" x2="672.40" y2="35.50" stroke="#333" stroke-width="1"/>
<text x="92" y="177.5" font-size="10.2" letter-spacing="0" text-anchor="start" fill="#505050">circRNA KD: branches</text>
<text x="128" y="207" font-size="10.3" letter-spacing="0.45" text-anchor="start" fill="#505050">Secondary branches</text>
<line x1="25.00" y1="214.50" x2="333.80" y2="214.50" stroke="#6a6a6a" stroke-width="1"/>
<text x="473.2" y="204" font-size="10.3" letter-spacing="0.45" text-anchor="start" fill="#505050">Avg. branch length</text>
<line x1="365.00" y1="214.50" x2="674.50" y2="214.50" stroke="#6a6a6a" stroke-width="1"/>
<text x="120.3" y="386.5" font-size="10" letter-spacing="0.4" text-anchor="start" fill="#505050">Soma size</text>
<text x="204.2" y="386.5" font-size="10" letter-spacing="0.4" text-anchor="start" fill="#505050">Nucleus size</text>
<text x="281.1" y="386.5" font-size="10" letter-spacing="0.4" text-anchor="start" fill="#505050">Soma/nucleus</text>
<text x="457.4" y="386.5" font-size="10" letter-spacing="0.4" text-anchor="start" fill="#505050">Soma size</text>
<text x="533.4" y="386.5" font-size="10" letter-spacing="0.4" text-anchor="start" fill="#505050">Nucleus size</text>
<text x="612.7" y="386.5" font-size="10" letter-spacing="0.4" text-anchor="start" fill="#505050">Soma/nucleus</text>
<text x="121.4" y="559.3" font-size="10" letter-spacing="0.4" text-anchor="start" fill="#505050">Soma size</text>
<text x="202.3" y="559.3" font-size="10" letter-spacing="0.4" text-anchor="start" fill="#505050">Nucleus size</text>
<text x="279.6" y="559.3" font-size="10" letter-spacing="0.4" text-anchor="start" fill="#505050">Soma/nucleus</text>
<text x="458.2" y="559.3" font-size="10" letter-spacing="0.4" text-anchor="start" fill="#505050">Soma size</text>
<text x="534.4" y="559.3" font-size="10" letter-spacing="0.4" text-anchor="start" fill="#505050">Nucleus size</text>
<text x="614" y="559.3" font-size="10" letter-spacing="0.4" text-anchor="start" fill="#505050">Soma/nucleus</text>
<text x="21" y="736.6" font-size="10.1" letter-spacing="0" text-anchor="start" fill="#505050">Percentage TH neurons</text>
<text x="23.2" y="45" font-size="8.7" letter-spacing="0" text-anchor="middle" fill="#505050">WT E14</text>
<text x="161.7" y="44.5" font-size="8.7" letter-spacing="0" text-anchor="middle" fill="#505050">DIV3</text>
<text x="84" y="109" font-size="8.7" letter-spacing="0" text-anchor="middle" fill="#505050">LV control</text>
<text x="85.6" y="119" font-size="8.7" letter-spacing="0" text-anchor="middle" fill="#505050">vs. circRNAKD</text>
<text x="161.3" y="108.7" font-size="8.7" letter-spacing="0" text-anchor="middle" fill="#505050">Morphometry</text>
<text x="274" y="115.8" font-size="10" letter-spacing="0" text-anchor="middle" fill="#505050">circRNA KD:</text>
<text x="274" y="128.4" font-size="10" letter-spacing="0" text-anchor="middle" fill="#505050">neurites</text>
<text x="48.2" y="463" font-size="10" letter-spacing="0" text-anchor="middle" fill="#505050">circRNA KD: soma</text>
<text x="48.3" y="474.3" font-size="10" letter-spacing="0" text-anchor="middle" fill="#505050">&amp; nucleus size</text>
<path d="M19.6,51.9 C23,51.9 27,53.5 29.5,57 C32,60.5 33.6,66 33.7,72 C33.8,79 32,85 28.5,88.2 C25.5,90.8 22.5,91.3 20,91.1 C16,90.8 13,89 11,86.5 C9.5,84.5 8.2,83 7.6,81.5 C6.8,80 7,78.8 8.5,78.2 L9.5,77.3 L9.3,73.5 L10.2,71.5 L9.5,70.2 L7.5,68.8 C6.6,68 6.7,66.6 7.6,66 L8.4,63.5 C8.2,60 8.6,57.5 10,55.8 C12.5,53.2 16,51.9 19.6,51.9 Z" fill="#3b3839"/><path d="M8.9,63.4 C8.7,60 9.1,57.8 10.4,56.2 C12.8,53.6 16,52.6 19.6,52.6 C23,52.6 26.3,54.1 28.5,56.9 C29.8,58.6 30.6,60.2 30.8,61.9 C29.8,62.4 28.7,62.8 27.9,62.8 C26.5,62.3 25,62.6 23.8,62.5 C22,61.9 21,61.5 19.6,61.7 C17.5,62.2 16,63.7 14.4,63.8 C12.3,63.9 10.5,63.6 8.9,63.4 Z" fill="#d8b1ab"/><path d="M11.6,61 C11.2,58.8 12,57.2 13.2,56.4 M15,58.3 C17,56.6 20,56.6 21.6,57.7 C22.1,59.1 21.1,60.1 19.8,60.4 M24,57.6 C26,58.1 27.1,59.6 27.6,61.1" stroke="#c39a94" stroke-width="0.45" fill="none"/><path d="M10.3,70.6 L13.6,71.4 M10.2,72.5 L10.3,76.8 M11.1,73 L11.3,76.6" stroke="#fff" stroke-width="0.55" fill="none"/><path d="M34.7,57.3 Q50,56.8 61.2,65.8" stroke="#222" stroke-width="0.8" fill="none"/><path d="M63.2,67.6 L58.8,66.2 L61.4,63.6 Z" fill="#222"/><line x1="78.71" y1="35.45" x2="81.16" y2="35.95" stroke="#5468c2" stroke-width="1.1"/><line x1="78.07" y1="37.00" x2="79.73" y2="38.12" stroke="#c79bc6" stroke-width="0.6"/><line x1="76.88" y1="38.18" x2="78.26" y2="40.27" stroke="#5468c2" stroke-width="1.1"/><line x1="75.32" y1="38.82" x2="75.71" y2="40.78" stroke="#c79bc6" stroke-width="0.6"/><line x1="73.65" y1="38.81" x2="73.15" y2="41.26" stroke="#5468c2" stroke-width="1.1"/><line x1="72.10" y1="38.17" x2="70.98" y2="39.83" stroke="#c79bc6" stroke-width="0.6"/><line x1="70.92" y1="36.98" x2="68.83" y2="38.36" stroke="#5468c2" stroke-width="1.1"/><line x1="70.28" y1="35.42" x2="68.32" y2="35.81" stroke="#c79bc6" stroke-width="0.6"/><line x1="70.29" y1="33.75" x2="67.84" y2="33.25" stroke="#5468c2" stroke-width="1.1"/><line x1="70.93" y1="32.20" x2="69.27" y2="31.08" stroke="#c79bc6" stroke-width="0.6"/><line x1="72.12" y1="31.02" x2="70.74" y2="28.93" stroke="#5468c2" stroke-width="1.1"/><line x1="73.68" y1="30.38" x2="73.29" y2="28.42" stroke="#c79bc6" stroke-width="0.6"/><line x1="75.35" y1="30.39" x2="75.85" y2="27.94" stroke="#5468c2" stroke-width="1.1"/><line x1="76.90" y1="31.03" x2="78.02" y2="29.37" stroke="#c79bc6" stroke-width="0.6"/><line x1="78.08" y1="32.22" x2="80.17" y2="30.84" stroke="#5468c2" stroke-width="1.1"/><line x1="78.72" y1="33.78" x2="80.68" y2="33.39" stroke="#c79bc6" stroke-width="0.6"/><circle cx="74.5" cy="34.6" r="4.2" fill="#fff" stroke="#6373c6" stroke-width="1"/><ellipse cx="74.8" cy="34.800000000000004" rx="1.8" ry="2.6" transform="rotate(-30 74.5 34.6)" fill="#b9c9d6"/><line x1="92.21" y1="25.95" x2="94.66" y2="26.45" stroke="#5468c2" stroke-width="1.1"/><line x1="91.57" y1="27.50" x2="93.23" y2="28.62" stroke="#c79bc6" stroke-width="0.6"/><line x1="90.38" y1="28.68" x2="91.76" y2="30.77" stroke="#5468c2" stroke-width="1.1"/><line x1="88.82" y1="29.32" x2="89.21" y2="31.28" stroke="#c79bc6" stroke-width="0.6"/><line x1="87.15" y1="29.31" x2="86.65" y2="31.76" stroke="#5468c2" stroke-width="1.1"/><line x1="85.60" y1="28.67" x2="84.48" y2="30.33" stroke="#c79bc6" stroke-width="0.6"/><line x1="84.42" y1="27.48" x2="82.33" y2="28.86" stroke="#5468c2" stroke-width="1.1"/><line x1="83.78" y1="25.92" x2="81.82" y2="26.31" stroke="#c79bc6" stroke-width="0.6"/><line x1="83.79" y1="24.25" x2="81.34" y2="23.75" stroke="#5468c2" stroke-width="1.1"/><line x1="84.43" y1="22.70" x2="82.77" y2="21.58" stroke="#c79bc6" stroke-width="0.6"/><line x1="85.62" y1="21.52" x2="84.24" y2="19.43" stroke="#5468c2" stroke-width="1.1"/><line x1="87.18" y1="20.88" x2="86.79" y2="18.92" stroke="#c79bc6" stroke-width="0.6"/><line x1="88.85" y1="20.89" x2="89.35" y2="18.44" stroke="#5468c2" stroke-width="1.1"/><line x1="90.40" y1="21.53" x2="91.52" y2="19.87" stroke="#c79bc6" stroke-width="0.6"/><line x1="91.58" y1="22.72" x2="93.67" y2="21.34" stroke="#5468c2" stroke-width="1.1"/><line x1="92.22" y1="24.28" x2="94.18" y2="23.89" stroke="#c79bc6" stroke-width="0.6"/><circle cx="88" cy="25.1" r="4.2" fill="#fff" stroke="#6373c6" stroke-width="1"/><ellipse cx="88.3" cy="25.3" rx="1.8" ry="2.6" transform="rotate(-30 88 25.1)" fill="#b9c9d6"/><line x1="107.51" y1="31.95" x2="109.96" y2="32.45" stroke="#5468c2" stroke-width="1.1"/><line x1="106.87" y1="33.50" x2="108.53" y2="34.62" stroke="#c79bc6" stroke-width="0.6"/><line x1="105.68" y1="34.68" x2="107.06" y2="36.77" stroke="#5468c2" stroke-width="1.1"/><line x1="104.12" y1="35.32" x2="104.51" y2="37.28" stroke="#c79bc6" stroke-width="0.6"/><line x1="102.45" y1="35.31" x2="101.95" y2="37.76" stroke="#5468c2" stroke-width="1.1"/><line x1="100.90" y1="34.67" x2="99.78" y2="36.33" stroke="#c79bc6" stroke-width="0.6"/><line x1="99.72" y1="33.48" x2="97.63" y2="34.86" stroke="#5468c2" stroke-width="1.1"/><line x1="99.08" y1="31.92" x2="97.12" y2="32.31" stroke="#c79bc6" stroke-width="0.6"/><line x1="99.09" y1="30.25" x2="96.64" y2="29.75" stroke="#5468c2" stroke-width="1.1"/><line x1="99.73" y1="28.70" x2="98.07" y2="27.58" stroke="#c79bc6" stroke-width="0.6"/><line x1="100.92" y1="27.52" x2="99.54" y2="25.43" stroke="#5468c2" stroke-width="1.1"/><line x1="102.48" y1="26.88" x2="102.09" y2="24.92" stroke="#c79bc6" stroke-width="0.6"/><line x1="104.15" y1="26.89" x2="104.65" y2="24.44" stroke="#5468c2" stroke-width="1.1"/><line x1="105.70" y1="27.53" x2="106.82" y2="25.87" stroke="#c79bc6" stroke-width="0.6"/><line x1="106.88" y1="28.72" x2="108.97" y2="27.34" stroke="#5468c2" stroke-width="1.1"/><line x1="107.52" y1="30.28" x2="109.48" y2="29.89" stroke="#c79bc6" stroke-width="0.6"/><circle cx="103.3" cy="31.1" r="4.2" fill="#fff" stroke="#6373c6" stroke-width="1"/><ellipse cx="103.6" cy="31.3" rx="1.8" ry="2.6" transform="rotate(-30 103.3 31.1)" fill="#b9c9d6"/><line x1="87" y1="40.4" x2="87" y2="56" stroke="#222" stroke-width="0.8"/><path d="M87,58.3 L85.2,54.8 L88.8,54.8 Z" fill="#222"/><path d="M67,72 L67,79.5 A20.5,11 0 0 0 108,79.5 L108,72 Z" fill="#e1eef2" stroke="#a9bcc4" stroke-width="0.6"/><ellipse cx="87.5" cy="72" rx="20.5" ry="11" fill="#e6f1f4" stroke="#a9bcc4" stroke-width="0.6"/><ellipse cx="87.5" cy="74.5" rx="19.5" ry="9.3" fill="#d2e8ef" stroke="#9cc3d2" stroke-width="0.5"/><path d="M81,71 L83,75 L80,79 M87,70 L88,74 L86,80 M92,73 L95,78 M78,76 L75,80" stroke="#9aa" stroke-width="0.3" fill="none"/><path d="M81,71.5 l1.5,-1.8 l1.5,1.8 z M86.5,77 l1,-2.5 l1,2.5 z M91,83.5 l2.5,-1 l0,2 z" fill="#5cb85c"/><line x1="114.6" y1="72.2" x2="131" y2="72.2" stroke="#222" stroke-width="0.8"/><path d="M133.4,72.2 L129.8,70.4 L129.8,74 Z" fill="#222"/><rect x="142.3" y="56.1" width="38.8" height="27.3" rx="0.5" fill="#3d3d3d"/><rect x="143.6" y="57.4" width="36.2" height="24.7" fill="#000"/><ellipse cx="155.6" cy="61.8" rx="1.28" ry="0.93" fill="#2eae55" transform="rotate(22 155.6 61.8)"/><circle cx="155.6" cy="61.8" r="0.55" fill="#3f86c8"/><ellipse cx="167.0" cy="60.0" rx="1.27" ry="1.12" fill="#2eae55" transform="rotate(85 167.0 60.0)"/><circle cx="167.0" cy="60.0" r="0.55" fill="#3f86c8"/><ellipse cx="163.0" cy="66.7" rx="1.58" ry="1.15" fill="#2eae55" transform="rotate(89 163.0 66.7)"/><circle cx="163.0" cy="66.7" r="0.55" fill="#3f86c8"/><ellipse cx="146.3" cy="69.9" rx="1.1" ry="0.9" fill="#1d3f6e" transform="rotate(31 146.3 69.9)"/><ellipse cx="146.7" cy="60.4" rx="1.55" ry="1.07" fill="#2eae55" transform="rotate(165 146.7 60.4)"/><circle cx="146.7" cy="60.4" r="0.55" fill="#3f86c8"/><ellipse cx="159.1" cy="77.2" rx="1.18" ry="1.00" fill="#2eae55" transform="rotate(95 159.1 77.2)"/><circle cx="159.1" cy="77.2" r="0.55" fill="#3f86c8"/><ellipse cx="166.2" cy="80.0" rx="1.20" ry="1.08" fill="#2eae55" transform="rotate(40 166.2 80.0)"/><circle cx="166.2" cy="80.0" r="0.55" fill="#3f86c8"/><ellipse cx="178.4" cy="59.4" rx="1.1" ry="0.9" fill="#1d3f6e" transform="rotate(58 178.4 59.4)"/><ellipse cx="174.3" cy="64.9" rx="1.39" ry="1.15" fill="#2eae55" transform="rotate(138 174.3 64.9)"/><circle cx="174.3" cy="64.9" r="0.55" fill="#3f86c8"/><ellipse cx="155.1" cy="77.0" rx="1.52" ry="1.05" fill="#2eae55" transform="rotate(16 155.1 77.0)"/><circle cx="155.1" cy="77.0" r="0.55" fill="#3f86c8"/><ellipse cx="150.6" cy="71.6" rx="1.22" ry="1.11" fill="#2eae55" transform="rotate(114 150.6 71.6)"/><circle cx="150.6" cy="71.6" r="0.55" fill="#3f86c8"/><ellipse cx="163.4" cy="59.7" rx="1.1" ry="0.9" fill="#1d3f6e" transform="rotate(73 163.4 59.7)"/><ellipse cx="168.0" cy="68.1" rx="1.39" ry="0.94" fill="#2eae55" transform="rotate(130 168.0 68.1)"/><circle cx="168.0" cy="68.1" r="0.55" fill="#3f86c8"/><ellipse cx="155.3" cy="71.7" rx="1.48" ry="0.90" fill="#2eae55" transform="rotate(54 155.3 71.7)"/><circle cx="155.3" cy="71.7" r="0.55" fill="#3f86c8"/><ellipse cx="172.0" cy="74.3" rx="1.37" ry="1.11" fill="#2eae55" transform="rotate(114 172.0 74.3)"/><circle cx="172.0" cy="74.3" r="0.55" fill="#3f86c8"/><ellipse cx="162.6" cy="78.3" rx="1.1" ry="0.9" fill="#1d3f6e" transform="rotate(59 162.6 78.3)"/><ellipse cx="169.8" cy="64.9" rx="1.34" ry="1.12" fill="#2eae55" transform="rotate(86 169.8 64.9)"/><circle cx="169.8" cy="64.9" r="0.55" fill="#3f86c8"/><ellipse cx="145.7" cy="73.6" rx="1.36" ry="0.98" fill="#2eae55" transform="rotate(13 145.7 73.6)"/><circle cx="145.7" cy="73.6" r="0.55" fill="#3f86c8"/><ellipse cx="168.6" cy="71.9" rx="1.23" ry="0.96" fill="#2eae55" transform="rotate(106 168.6 71.9)"/><circle cx="168.6" cy="71.9" r="0.55" fill="#3f86c8"/><ellipse cx="173.6" cy="79.9" rx="1.1" ry="0.9" fill="#1d3f6e" transform="rotate(42 173.6 79.9)"/><ellipse cx="160.8" cy="73.5" rx="1.28" ry="1.16" fill="#2eae55" transform="rotate(161 160.8 73.5)"/><circle cx="160.8" cy="73.5" r="0.55" fill="#3f86c8"/><ellipse cx="148.8" cy="64.0" rx="1.23" ry="1.07" fill="#2eae55" transform="rotate(132 148.8 64.0)"/><circle cx="148.8" cy="64.0" r="0.55" fill="#3f86c8"/><ellipse cx="154.0" cy="67.8" rx="1.57" ry="1.09" fill="#2eae55" transform="rotate(2 154.0 67.8)"/><circle cx="154.0" cy="67.8" r="0.55" fill="#3f86c8"/><ellipse cx="177.6" cy="74.1" rx="1.1" ry="0.9" fill="#1d3f6e" transform="rotate(20 177.6 74.1)"/><ellipse cx="158.0" cy="67.4" rx="1.35" ry="1.10" fill="#2eae55" transform="rotate(93 158.0 67.4)"/><circle cx="158.0" cy="67.4" r="0.55" fill="#3f86c8"/><ellipse cx="145.2" cy="78.3" rx="1.55" ry="1.09" fill="#2eae55" transform="rotate(52 145.2 78.3)"/><circle cx="145.2" cy="78.3" r="0.55" fill="#3f86c8"/><ellipse cx="150.1" cy="76.0" rx="1.51" ry="1.17" fill="#2eae55" transform="rotate(13 150.1 76.0)"/><circle cx="150.1" cy="76.0" r="0.55" fill="#3f86c8"/><ellipse cx="145.3" cy="64.7" rx="1.1" ry="0.9" fill="#1d3f6e" transform="rotate(55 145.3 64.7)"/><ellipse cx="177.7" cy="68.5" rx="1.53" ry="1.16" fill="#2eae55" transform="rotate(128 177.7 68.5)"/><circle cx="177.7" cy="68.5" r="0.55" fill="#3f86c8"/><ellipse cx="173.6" cy="69.3" rx="1.52" ry="0.97" fill="#2eae55" transform="rotate(13 173.6 69.3)"/><circle cx="173.6" cy="69.3" r="0.55" fill="#3f86c8"/><ellipse cx="159.7" cy="62.5" rx="1.44" ry="1.04" fill="#2eae55" transform="rotate(144 159.7 62.5)"/><circle cx="159.7" cy="62.5" r="0.55" fill="#3f86c8"/><ellipse cx="152.0" cy="80.1" rx="1.1" ry="0.9" fill="#1d3f6e" transform="rotate(162 152.0 80.1)"/><ellipse cx="153.0" cy="58.7" rx="1.60" ry="1.19" fill="#2eae55" transform="rotate(145 153.0 58.7)"/><circle cx="153.0" cy="58.7" r="0.55" fill="#3f86c8"/><ellipse cx="160.9" cy="69.8" rx="1.47" ry="1.10" fill="#2eae55" transform="rotate(103 160.9 69.8)"/><circle cx="160.9" cy="69.8" r="0.55" fill="#3f86c8"/><ellipse cx="164.7" cy="70.4" rx="1.35" ry="1.05" fill="#2eae55" transform="rotate(72 164.7 70.4)"/><circle cx="164.7" cy="70.4" r="0.55" fill="#3f86c8"/><ellipse cx="178.4" cy="79.7" rx="1.1" ry="0.9" fill="#1d3f6e" transform="rotate(39 178.4 79.7)"/><ellipse cx="173.6" cy="61.0" rx="1.52" ry="1.15" fill="#2eae55" transform="rotate(47 173.6 61.0)"/><circle cx="173.6" cy="61.0" r="0.55" fill="#3f86c8"/><ellipse cx="178.4" cy="64.3" rx="1.44" ry="1.05" fill="#2eae55" transform="rotate(126 178.4 64.3)"/><circle cx="178.4" cy="64.3" r="0.55" fill="#3f86c8"/><ellipse cx="152.6" cy="64.2" rx="1.43" ry="0.90" fill="#2eae55" transform="rotate(103 152.6 64.2)"/><circle cx="152.6" cy="64.2" r="0.55" fill="#3f86c8"/><ellipse cx="166.9" cy="75.8" rx="1.1" ry="0.9" fill="#1d3f6e" transform="rotate(80 166.9 75.8)"/><ellipse cx="169.9" cy="81.1" rx="1.20" ry="1.04" fill="#2eae55" transform="rotate(175 169.9 81.1)"/><circle cx="169.9" cy="81.1" r="0.55" fill="#3f86c8"/><ellipse cx="155.7" cy="80.7" rx="1.23" ry="1.15" fill="#2eae55" transform="rotate(14 155.7 80.7)"/><circle cx="155.7" cy="80.7" r="0.55" fill="#3f86c8"/><ellipse cx="148.0" cy="81.0" rx="1.50" ry="1.14" fill="#2eae55" transform="rotate(6 148.0 81.0)"/><circle cx="148.0" cy="81.0" r="0.55" fill="#3f86c8"/><ellipse cx="166.0" cy="64.0" rx="1.1" ry="0.9" fill="#1d3f6e" transform="rotate(156 166.0 64.0)"/><ellipse cx="157.6" cy="58.7" rx="1.57" ry="1.01" fill="#2eae55" transform="rotate(46 157.6 58.7)"/><circle cx="157.6" cy="58.7" r="0.55" fill="#3f86c8"/><ellipse cx="149.9" cy="67.7" rx="1.58" ry="1.06" fill="#2eae55" transform="rotate(81 149.9 67.7)"/><circle cx="149.9" cy="67.7" r="0.55" fill="#3f86c8"/><ellipse cx="159.7" cy="81.0" rx="1.16" ry="0.90" fill="#2eae55" transform="rotate(123 159.7 81.0)"/><circle cx="159.7" cy="81.0" r="0.55" fill="#3f86c8"/><ellipse cx="170.6" cy="58.5" rx="1.1" ry="0.9" fill="#1d3f6e" transform="rotate(48 170.6 58.5)"/><rect x="159.7" y="83.3" width="3.3" height="6.3" fill="#3d3d3d"/><path d="M156.5,89.4 L165,89.4 L167,92.1 L154.5,92.1 Z" fill="#3d3d3d"/><g transform="translate(247.2,65) scale(1.0)"><path d="M-11.4,-7.8 L-11.6,-11.4 L-14.5,-16.6" stroke="#2b2b2b" stroke-width="0.95" fill="none" stroke-linecap="round"/><path d="M-11.6,-11.4 L-9,-13.5" stroke="#2b2b2b" stroke-width="0.95" fill="none" stroke-linecap="round"/><path d="M-11.4,-7.8 L-17.6,-7 L-23.7,-9.2" stroke="#2b2b2b" stroke-width="0.95" fill="none" stroke-linecap="round"/><path d="M-17.6,-7 C-20,-5 -22,-3 -22.8,-0.4" stroke="#2b2b2b" stroke-width="0.95" fill="none" stroke-linecap="round"/><path d="M-2.7,-14.9 L-2.2,-20 L-1.4,-26.7" stroke="#2b2b2b" stroke-width="0.95" fill="none" stroke-linecap="round"/><path d="M-2.2,-20 C0,-22.5 3,-23 6.1,-22.7" stroke="#2b2b2b" stroke-width="0.95" fill="none" stroke-linecap="round"/><path d="M9.6,-13.1 L11.5,-18.5 L11.8,-25" stroke="#2b2b2b" stroke-width="0.95" fill="none" stroke-linecap="round"/><path d="M11.5,-18.5 C14,-20.5 17,-21.5 20.5,-21.9" stroke="#2b2b2b" stroke-width="0.95" fill="none" stroke-linecap="round"/><path d="M23.6,10.5 L33.1,15.8 L44.4,25.5" stroke="#2b2b2b" stroke-width="0.95" fill="none" stroke-linecap="round"/><path d="M29,13.3 C30.5,10 31.5,7 32.1,4" stroke="#2b2b2b" stroke-width="0.95" fill="none" stroke-linecap="round"/><path d="M33.1,15.8 L36.5,15.2" stroke="#2b2b2b" stroke-width="0.95" fill="none" stroke-linecap="round"/><path d="M-8.4,21.9 L-10.5,24.5 L-16.2,28" stroke="#2b2b2b" stroke-width="0.95" fill="none" stroke-linecap="round"/><path d="M-10.5,24.5 L-8.8,29.5 L-5.7,35" stroke="#2b2b2b" stroke-width="0.95" fill="none" stroke-linecap="round"/><path d="M-8.8,29.5 L-11.5,32" stroke="#2b2b2b" stroke-width="0.95" fill="none" stroke-linecap="round"/><path d="M1.7,15 L-1.5,18 L-5.3,18.4" stroke="#2b2b2b" stroke-width="0.95" fill="none" stroke-linecap="round"/><path d="M-1.5,18 L-0.9,24.6" stroke="#2b2b2b" stroke-width="0.95" fill="none" stroke-linecap="round"/><path d="M1.7,15 L6,18.5 L6.1,22" stroke="#2b2b2b" stroke-width="0.95" fill="none" stroke-linecap="round"/><path d="M6,18.5 L10,17.1" stroke="#2b2b2b" stroke-width="0.95" fill="none" stroke-linecap="round"/><path d="M-3,-15 C0,-13 4,-12.5 8,-12.8" stroke="#2b2b2b" stroke-width="0.95" fill="none" stroke-linecap="round"/><path d="M-6,-16.5 C-3,-16.8 -1,-15.5 0,-14" stroke="#2b2b2b" stroke-width="0.95" fill="none" stroke-linecap="round"/><path d="M65.8,12.2 L70,6 L74,2 L79.1,-0.1" stroke="#a51a55" stroke-width="0.85" fill="none" stroke-linecap="round"/><path d="M74,2 L78,2.5" stroke="#a51a55" stroke-width="0.85" fill="none" stroke-linecap="round"/><path d="M70,6 L75,7 L80.1,7.1" stroke="#a51a55" stroke-width="0.85" fill="none" stroke-linecap="round"/><path d="M75,7 L78.5,4.5" stroke="#a51a55" stroke-width="0.85" fill="none" stroke-linecap="round"/><path d="M65.8,12.2 L71,14 L75,16.5 L79.1,17.3" stroke="#a51a55" stroke-width="0.85" fill="none" stroke-linecap="round"/><path d="M71,14 L76,11.5 L79,12.5" stroke="#a51a55" stroke-width="0.85" fill="none" stroke-linecap="round"/><path d="M68,13 L72.8,10" stroke="#a51a55" stroke-width="0.85" fill="none" stroke-linecap="round"/><path d="M18.5,-5.2 C27,-6.8 33,-8.2 38.2,-7.2 C41,-6.6 42,-5.8 43.3,-4.7 C50,3 55,10 61.7,11.7 L65.8,12.2" stroke="#a51a55" stroke-width="1.50" fill="none" stroke-linecap="round"/><polygon points="-2.14,-3.85 -11.07,-8.24 -11.73,-7.36 -4.86,-0.15" fill="#a51a55" stroke="#5a1030" stroke-width="0.25"/><polygon points="1.56,-3.90 -2.16,-15.00 -3.24,-14.80 -2.56,-3.10" fill="#a51a55" stroke="#5a1030" stroke-width="0.25"/><polygon points="4.15,-1.84 10.04,-12.77 9.16,-13.43 0.45,-4.56" fill="#a51a55" stroke="#5a1030" stroke-width="0.25"/><polygon points="4.03,0.45 19.14,-4.61 18.86,-5.99 2.97,-4.85" fill="#a51a55" stroke="#5a1030" stroke-width="0.25"/><polygon points="2.47,4.70 23.33,11.15 23.87,9.85 4.53,-0.30" fill="#a51a55" stroke="#5a1030" stroke-width="0.25"/><polygon points="-4.28,2.80 -8.92,21.72 -7.88,22.08 -0.12,4.20" fill="#a51a55" stroke="#5a1030" stroke-width="0.25"/><polygon points="-1.29,4.20 1.20,15.05 2.20,14.95 2.29,3.80" fill="#a51a55" stroke="#5a1030" stroke-width="0.25"/><ellipse cx="0" cy="0.3" rx="6.9" ry="6.7" fill="#fff" stroke="#ccc" stroke-width="0.30"/></g><path d="M54,172.3 L54,160.6 C53.6,157.5 53.4,154.5 53.6,152" stroke="#333" stroke-width="0.85" fill="none" stroke-linecap="round"/><path d="M54,160.6 C57,158 60.5,157 64.6,157.4" stroke="#333" stroke-width="0.85" fill="none" stroke-linecap="round"/><path d="M54,172.3 C58,174.3 63,174 68.3,172.3" stroke="#333" stroke-width="0.85" fill="none" stroke-linecap="round"/><path d="M55.5,174.6 C59,176.2 62.5,175.8 65.2,174.5" stroke="#333" stroke-width="0.85" fill="none" stroke-linecap="round"/><path d="M68.3,172.3 L73.6,165.3 C73,161 72.7,157.5 72.2,154.3" stroke="#333" stroke-width="0.85" fill="none" stroke-linecap="round"/><path d="M73.6,165.3 C77,161.5 81,159.5 85.7,158.8" stroke="#333" stroke-width="0.85" fill="none" stroke-linecap="round"/><path d="M44.5,181 C42.5,179.5 41,178.5 39.9,177.3 L39.9,172.2 C38.5,169.5 37.2,167.8 36,166" stroke="#333" stroke-width="0.85" fill="none" stroke-linecap="round"/><path d="M39.9,172.2 C42,171.5 44.5,170.5 46.5,169.5" stroke="#333" stroke-width="0.85" fill="none" stroke-linecap="round"/><path d="M43.6,182.3 C40,181.5 36,181.2 31.1,181 C28,179.5 25.5,178 22.6,177.1" stroke="#333" stroke-width="0.85" fill="none" stroke-linecap="round"/><path d="M31.1,181 C28.5,183.5 26.3,186 24.3,188.8" stroke="#333" stroke-width="0.85" fill="none" stroke-linecap="round"/><path d="M46,166.6 C47.5,166.2 49,167 50.3,168.6" stroke="#333" stroke-width="0.85" fill="none" stroke-linecap="round"/><path d="M46.1,200.9 C47,198 47.8,197 47.4,194 C46.8,190 46.2,187 44.5,183.5 L43.2,181.2 L44.5,180.6 C46,183 47.5,185 48.8,186.4 C50.5,185.5 52.3,184.5 53.5,183 C53.5,180 53.2,177.5 52.3,175.5 C51.8,173 51.2,171 50.8,168.8 L52,169.5 C53,171.5 53.8,173 54.5,174.2 C56.5,177 58.5,179.5 60.4,181.4 C62.2,179.8 64,178 65.6,176.2 C66.5,175.2 67.5,174 68.3,173.1 L68.8,174 C67,177 65.2,180 64.3,182.6 C67.5,183 70.7,183.2 73.9,183.4 C71.5,186 69.3,188.8 67.3,191.5 C69.5,194 71.7,196.5 73.9,198.8 C70,197.8 66.4,196.5 62.8,195.6 C61,197.5 59,199.5 57.2,201.5 C56,200.3 55,199.2 53.7,198.2 C52.6,199.1 51.5,200 50.5,200.9 C49,200.9 47.5,200.9 46.1,200.9 Z" fill="#fff" stroke="#555" stroke-width="0.55" stroke-linejoin="round"/><circle cx="56.9" cy="188.6" r="5.4" fill="#fff" stroke="#555" stroke-width="0.55"/><circle cx="31.1" cy="181" r="1.85" fill="#d21a5e" stroke="#5a1a35" stroke-width="0.3"/><circle cx="39.9" cy="172.2" r="1.85" fill="#d21a5e" stroke="#5a1a35" stroke-width="0.3"/><circle cx="54" cy="160.6" r="1.85" fill="#d21a5e" stroke="#5a1a35" stroke-width="0.3"/><circle cx="54" cy="166.7" r="1.85" fill="#d21a5e" stroke="#5a1a35" stroke-width="0.3"/><circle cx="54" cy="172.3" r="1.85" fill="#d21a5e" stroke="#5a1a35" stroke-width="0.3"/><circle cx="68.3" cy="172.3" r="1.85" fill="#d21a5e" stroke="#5a1a35" stroke-width="0.3"/><circle cx="73.6" cy="165.3" r="1.85" fill="#d21a5e" stroke="#5a1a35" stroke-width="0.3"/><path d="M38,409 L29,401.5 L17.9,405" stroke="#2a2a2a" stroke-width="0.8" fill="none" stroke-linecap="round"/><path d="M37,411 L28.5,403.5" stroke="#2a2a2a" stroke-width="0.8" fill="none" stroke-linecap="round"/><path d="M29,401.5 L28,396 L25,393" stroke="#2a2a2a" stroke-width="0.8" fill="none" stroke-linecap="round"/><path d="M26,404 L22,408 L19.9,414.4" stroke="#2a2a2a" stroke-width="0.8" fill="none" stroke-linecap="round"/><path d="M42,408 L41.5,397 L41.5,386.6" stroke="#2a2a2a" stroke-width="0.8" fill="none" stroke-linecap="round"/><path d="M44,408 L43.5,397" stroke="#2a2a2a" stroke-width="0.8" fill="none" stroke-linecap="round"/><path d="M41.5,397 L44,395.5 L48,396" stroke="#2a2a2a" stroke-width="0.8" fill="none" stroke-linecap="round"/><path d="M41.6,390 L44.5,388" stroke="#2a2a2a" stroke-width="0.8" fill="none" stroke-linecap="round"/><path d="M47,408.5 L53,398 L56,388.5" stroke="#2a2a2a" stroke-width="0.8" fill="none" stroke-linecap="round"/><path d="M49,409 L54.5,399.5" stroke="#2a2a2a" stroke-width="0.8" fill="none" stroke-linecap="round"/><path d="M53.5,397.5 L58.5,394 L65.8,391.6" stroke="#2a2a2a" stroke-width="0.8" fill="none" stroke-linecap="round"/><path d="M51,410.5 C60,408 72,406 87.5,408.2" stroke="#2a2a2a" stroke-width="0.8" fill="none" stroke-linecap="round"/><path d="M51.5,413 C62,410.5 74,409 87,410" stroke="#2a2a2a" stroke-width="0.8" fill="none" stroke-linecap="round"/><path d="M50.5,418 L66,426 L78,432 L88.8,439" stroke="#2a2a2a" stroke-width="0.8" fill="none" stroke-linecap="round"/><path d="M50,420 L65,428 L77,434" stroke="#2a2a2a" stroke-width="0.8" fill="none" stroke-linecap="round"/><path d="M75,430 L76,425 L77.5,419.5" stroke="#2a2a2a" stroke-width="0.8" fill="none" stroke-linecap="round"/><path d="M78,432 L81.5,431" stroke="#2a2a2a" stroke-width="0.8" fill="none" stroke-linecap="round"/><path d="M39.5,422 L37.5,432 L36,442" stroke="#2a2a2a" stroke-width="0.8" fill="none" stroke-linecap="round"/><path d="M41.5,422.5 L39.5,433" stroke="#2a2a2a" stroke-width="0.8" fill="none" stroke-linecap="round"/><path d="M36.5,438 L31,442 L27,444.4" stroke="#2a2a2a" stroke-width="0.8" fill="none" stroke-linecap="round"/><path d="M36,442 L36.3,449" stroke="#2a2a2a" stroke-width="0.8" fill="none" stroke-linecap="round"/><path d="M35,440 L33.5,447" stroke="#2a2a2a" stroke-width="0.8" fill="none" stroke-linecap="round"/><path d="M44.5,423 L46,430 L45.5,436" stroke="#2a2a2a" stroke-width="0.8" fill="none" stroke-linecap="round"/><path d="M46.5,423 L48,430" stroke="#2a2a2a" stroke-width="0.8" fill="none" stroke-linecap="round"/><path d="M46,430 L40,433.5" stroke="#2a2a2a" stroke-width="0.8" fill="none" stroke-linecap="round"/><path d="M47,431 L54.7,433.2" stroke="#2a2a2a" stroke-width="0.8" fill="none" stroke-linecap="round"/><path d="M46.5,432 L50,437" stroke="#2a2a2a" stroke-width="0.8" fill="none" stroke-linecap="round"/><path d="M44.4,407.5 L47,408.8 L50,408 L50.5,411 L52.5,413.5 L51,416.5 L51.5,419.5 L48.5,420.5 L46.5,423.5 L43.5,421.8 L40.5,423 L39.5,420 L36.8,418 L37.8,415 L36.5,412 L39.5,410.5 L40.5,407.8 L43,408.5 Z" fill="#d81b60"/><circle cx="44.4" cy="415.2" r="4.5" fill="#c2185b" stroke="#5a1a35" stroke-width="0.6"/><g transform="translate(25.7,772.7) scale(0.74)"><path d="M-11.4,-7.8 L-11.6,-11.4 L-14.5,-16.6" stroke="#2b2b2b" stroke-width="1.28" fill="none" stroke-linecap="round"/><path d="M-11.6,-11.4 L-9,-13.5" stroke="#2b2b2b" stroke-width="1.28" fill="none" stroke-linecap="round"/><path d="M-11.4,-7.8 L-17.6,-7 L-23.7,-9.2" stroke="#2b2b2b" stroke-width="1.28" fill="none" stroke-linecap="round"/><path d="M-17.6,-7 C-20,-5 -22,-3 -22.8,-0.4" stroke="#2b2b2b" stroke-width="1.28" fill="none" stroke-linecap="round"/><path d="M-2.7,-14.9 L-2.2,-20 L-1.4,-26.7" stroke="#2b2b2b" stroke-width="1.28" fill="none" stroke-linecap="round"/><path d="M-2.2,-20 C0,-22.5 3,-23 6.1,-22.7" stroke="#2b2b2b" stroke-width="1.28" fill="none" stroke-linecap="round"/><path d="M9.6,-13.1 L11.5,-18.5 L11.8,-25" stroke="#2b2b2b" stroke-width="1.28" fill="none" stroke-linecap="round"/><path d="M11.5,-18.5 C14,-20.5 17,-21.5 20.5,-21.9" stroke="#2b2b2b" stroke-width="1.28" fill="none" stroke-linecap="round"/><path d="M23.6,10.5 L33.1,15.8 L44.4,25.5" stroke="#2b2b2b" stroke-width="1.28" fill="none" stroke-linecap="round"/><path d="M29,13.3 C30.5,10 31.5,7 32.1,4" stroke="#2b2b2b" stroke-width="1.28" fill="none" stroke-linecap="round"/><path d="M33.1,15.8 L36.5,15.2" stroke="#2b2b2b" stroke-width="1.28" fill="none" stroke-linecap="round"/><path d="M-8.4,21.9 L-10.5,24.5 L-16.2,28" stroke="#2b2b2b" stroke-width="1.28" fill="none" stroke-linecap="round"/><path d="M-10.5,24.5 L-8.8,29.5 L-5.7,35" stroke="#2b2b2b" stroke-width="1.28" fill="none" stroke-linecap="round"/><path d="M-8.8,29.5 L-11.5,32" stroke="#2b2b2b" stroke-width="1.28" fill="none" stroke-linecap="round"/><path d="M1.7,15 L-1.5,18 L-5.3,18.4" stroke="#2b2b2b" stroke-width="1.28" fill="none" stroke-linecap="round"/><path d="M-1.5,18 L-0.9,24.6" stroke="#2b2b2b" stroke-width="1.28" fill="none" stroke-linecap="round"/><path d="M1.7,15 L6,18.5 L6.1,22" stroke="#2b2b2b" stroke-width="1.28" fill="none" stroke-linecap="round"/><path d="M6,18.5 L10,17.1" stroke="#2b2b2b" stroke-width="1.28" fill="none" stroke-linecap="round"/><path d="M-3,-15 C0,-13 4,-12.5 8,-12.8" stroke="#2b2b2b" stroke-width="1.28" fill="none" stroke-linecap="round"/><path d="M-6,-16.5 C-3,-16.8 -1,-15.5 0,-14" stroke="#2b2b2b" stroke-width="1.28" fill="none" stroke-linecap="round"/><path d="M65.8,12.2 L70,6 L74,2 L79.1,-0.1" stroke="#2b2b2b" stroke-width="1.15" fill="none" stroke-linecap="round"/><path d="M74,2 L78,2.5" stroke="#2b2b2b" stroke-width="1.15" fill="none" stroke-linecap="round"/><path d="M70,6 L75,7 L80.1,7.1" stroke="#2b2b2b" stroke-width="1.15" fill="none" stroke-linecap="round"/><path d="M75,7 L78.5,4.5" stroke="#2b2b2b" stroke-width="1.15" fill="none" stroke-linecap="round"/><path d="M65.8,12.2 L71,14 L75,16.5 L79.1,17.3" stroke="#2b2b2b" stroke-width="1.15" fill="none" stroke-linecap="round"/><path d="M71,14 L76,11.5 L79,12.5" stroke="#2b2b2b" stroke-width="1.15" fill="none" stroke-linecap="round"/><path d="M68,13 L72.8,10" stroke="#2b2b2b" stroke-width="1.15" fill="none" stroke-linecap="round"/><path d="M18.5,-5.2 C27,-6.8 33,-8.2 38.2,-7.2 C41,-6.6 42,-5.8 43.3,-4.7 C50,3 55,10 61.7,11.7 L65.8,12.2" stroke="#444" stroke-width="2.03" fill="none" stroke-linecap="round"/><path d="M18.5,-5.2 C27,-6.8 33,-8.2 38.2,-7.2 C41,-6.6 42,-5.8 43.3,-4.7 C50,3 55,10 61.7,11.7 L65.8,12.2" stroke="#fff" stroke-width="0.61" fill="none" stroke-linecap="round"/><polygon points="-2.14,-3.85 -11.07,-8.24 -11.73,-7.36 -4.86,-0.15" fill="#fff" stroke="#333" stroke-width="0.68"/><polygon points="1.56,-3.90 -2.16,-15.00 -3.24,-14.80 -2.56,-3.10" fill="#fff" stroke="#333" stroke-width="0.68"/><polygon points="4.15,-1.84 10.04,-12.77 9.16,-13.43 0.45,-4.56" fill="#fff" stroke="#333" stroke-width="0.68"/><polygon points="4.03,0.45 19.14,-4.61 18.86,-5.99 2.97,-4.85" fill="#fff" stroke="#333" stroke-width="0.68"/><polygon points="2.47,4.70 23.33,11.15 23.87,9.85 4.53,-0.30" fill="#fff" stroke="#333" stroke-width="0.68"/><polygon points="-4.28,2.80 -8.92,21.72 -7.88,22.08 -0.12,4.20" fill="#fff" stroke="#333" stroke-width="0.68"/><polygon points="-1.29,4.20 1.20,15.05 2.20,14.95 2.29,3.80" fill="#fff" stroke="#333" stroke-width="0.68"/><ellipse cx="0" cy="0.3" rx="6.6" ry="6.4" fill="#fff"/><circle cx="0.3" cy="0" r="2.8" fill="#fff" stroke="#444" stroke-width="0.68"/></g><g transform="translate(18.7,819.2) scale(0.74)"><path d="M-11.4,-7.8 L-11.6,-11.4 L-14.5,-16.6" stroke="#2b2b2b" stroke-width="1.28" fill="none" stroke-linecap="round"/><path d="M-11.6,-11.4 L-9,-13.5" stroke="#2b2b2b" stroke-width="1.28" fill="none" stroke-linecap="round"/><path d="M-11.4,-7.8 L-17.6,-7 L-23.7,-9.2" stroke="#2b2b2b" stroke-width="1.28" fill="none" stroke-linecap="round"/><path d="M-17.6,-7 C-20,-5 -22,-3 -22.8,-0.4" stroke="#2b2b2b" stroke-width="1.28" fill="none" stroke-linecap="round"/><path d="M-2.7,-14.9 L-2.2,-20 L-1.4,-26.7" stroke="#2b2b2b" stroke-width="1.28" fill="none" stroke-linecap="round"/><path d="M-2.2,-20 C0,-22.5 3,-23 6.1,-22.7" stroke="#2b2b2b" stroke-width="1.28" fill="none" stroke-linecap="round"/><path d="M9.6,-13.1 L11.5,-18.5 L11.8,-25" stroke="#2b2b2b" stroke-width="1.28" fill="none" stroke-linecap="round"/><path d="M11.5,-18.5 C14,-20.5 17,-21.5 20.5,-21.9" stroke="#2b2b2b" stroke-width="1.28" fill="none" stroke-linecap="round"/><path d="M23.6,10.5 L33.1,15.8 L44.4,25.5" stroke="#2b2b2b" stroke-width="1.28" fill="none" stroke-linecap="round"/><path d="M29,13.3 C30.5,10 31.5,7 32.1,4" stroke="#2b2b2b" stroke-width="1.28" fill="none" stroke-linecap="round"/><path d="M33.1,15.8 L36.5,15.2" stroke="#2b2b2b" stroke-width="1.28" fill="none" stroke-linecap="round"/><path d="M-8.4,21.9 L-10.5,24.5 L-16.2,28" stroke="#2b2b2b" stroke-width="1.28" fill="none" stroke-linecap="round"/><path d="M-10.5,24.5 L-8.8,29.5 L-5.7,35" stroke="#2b2b2b" stroke-width="1.28" fill="none" stroke-linecap="round"/><path d="M-8.8,29.5 L-11.5,32" stroke="#2b2b2b" stroke-width="1.28" fill="none" stroke-linecap="round"/><path d="M1.7,15 L-1.5,18 L-5.3,18.4" stroke="#2b2b2b" stroke-width="1.28" fill="none" stroke-linecap="round"/><path d="M-1.5,18 L-0.9,24.6" stroke="#2b2b2b" stroke-width="1.28" fill="none" stroke-linecap="round"/><path d="M1.7,15 L6,18.5 L6.1,22" stroke="#2b2b2b" stroke-width="1.28" fill="none" stroke-linecap="round"/><path d="M6,18.5 L10,17.1" stroke="#2b2b2b" stroke-width="1.28" fill="none" stroke-linecap="round"/><path d="M-3,-15 C0,-13 4,-12.5 8,-12.8" stroke="#2b2b2b" stroke-width="1.28" fill="none" stroke-linecap="round"/><path d="M-6,-16.5 C-3,-16.8 -1,-15.5 0,-14" stroke="#2b2b2b" stroke-width="1.28" fill="none" stroke-linecap="round"/><path d="M65.8,12.2 L70,6 L74,2 L79.1,-0.1" stroke="#2b2b2b" stroke-width="1.15" fill="none" stroke-linecap="round"/><path d="M74,2 L78,2.5" stroke="#2b2b2b" stroke-width="1.15" fill="none" stroke-linecap="round"/><path d="M70,6 L75,7 L80.1,7.1" stroke="#2b2b2b" stroke-width="1.15" fill="none" stroke-linecap="round"/><path d="M75,7 L78.5,4.5" stroke="#2b2b2b" stroke-width="1.15" fill="none" stroke-linecap="round"/><path d="M65.8,12.2 L71,14 L75,16.5 L79.1,17.3" stroke="#2b2b2b" stroke-width="1.15" fill="none" stroke-linecap="round"/><path d="M71,14 L76,11.5 L79,12.5" stroke="#2b2b2b" stroke-width="1.15" fill="none" stroke-linecap="round"/><path d="M68,13 L72.8,10" stroke="#2b2b2b" stroke-width="1.15" fill="none" stroke-linecap="round"/><path d="M18.5,-5.2 C27,-6.8 33,-8.2 38.2,-7.2 C41,-6.6 42,-5.8 43.3,-4.7 C50,3 55,10 61.7,11.7 L65.8,12.2" stroke="#444" stroke-width="2.03" fill="none" stroke-linecap="round"/><path d="M18.5,-5.2 C27,-6.8 33,-8.2 38.2,-7.2 C41,-6.6 42,-5.8 43.3,-4.7 C50,3 55,10 61.7,11.7 L65.8,12.2" stroke="#fff" stroke-width="0.61" fill="none" stroke-linecap="round"/><polygon points="-2.14,-3.85 -11.07,-8.24 -11.73,-7.36 -4.86,-0.15" fill="#fff" stroke="#333" stroke-width="0.68"/><polygon points="1.56,-3.90 -2.16,-15.00 -3.24,-14.80 -2.56,-3.10" fill="#fff" stroke="#333" stroke-width="0.68"/><polygon points="4.15,-1.84 10.04,-12.77 9.16,-13.43 0.45,-4.56" fill="#fff" stroke="#333" stroke-width="0.68"/><polygon points="4.03,0.45 19.14,-4.61 18.86,-5.99 2.97,-4.85" fill="#fff" stroke="#333" stroke-width="0.68"/><polygon points="2.47,4.70 23.33,11.15 23.87,9.85 4.53,-0.30" fill="#fff" stroke="#333" stroke-width="0.68"/><polygon points="-4.28,2.80 -8.92,21.72 -7.88,22.08 -0.12,4.20" fill="#fff" stroke="#333" stroke-width="0.68"/><polygon points="-1.29,4.20 1.20,15.05 2.20,14.95 2.29,3.80" fill="#fff" stroke="#333" stroke-width="0.68"/><ellipse cx="0" cy="0.3" rx="6.6" ry="6.4" fill="#fff"/><circle cx="0.3" cy="0" r="2.8" fill="#fff" stroke="#444" stroke-width="0.68"/></g><g transform="translate(27.7,797.4) scale(0.74)"><path d="M-11.4,-7.8 L-11.6,-11.4 L-14.5,-16.6" stroke="#2b2b2b" stroke-width="1.28" fill="none" stroke-linecap="round"/><path d="M-11.6,-11.4 L-9,-13.5" stroke="#2b2b2b" stroke-width="1.28" fill="none" stroke-linecap="round"/><path d="M-11.4,-7.8 L-17.6,-7 L-23.7,-9.2" stroke="#2b2b2b" stroke-width="1.28" fill="none" stroke-linecap="round"/><path d="M-17.6,-7 C-20,-5 -22,-3 -22.8,-0.4" stroke="#2b2b2b" stroke-width="1.28" fill="none" stroke-linecap="round"/><path d="M-2.7,-14.9 L-2.2,-20 L-1.4,-26.7" stroke="#2b2b2b" stroke-width="1.28" fill="none" stroke-linecap="round"/><path d="M-2.2,-20 C0,-22.5 3,-23 6.1,-22.7" stroke="#2b2b2b" stroke-width="1.28" fill="none" stroke-linecap="round"/><path d="M9.6,-13.1 L11.5,-18.5 L11.8,-25" stroke="#2b2b2b" stroke-width="1.28" fill="none" stroke-linecap="round"/><path d="M11.5,-18.5 C14,-20.5 17,-21.5 20.5,-21.9" stroke="#2b2b2b" stroke-width="1.28" fill="none" stroke-linecap="round"/><path d="M23.6,10.5 L33.1,15.8 L44.4,25.5" stroke="#2b2b2b" stroke-width="1.28" fill="none" stroke-linecap="round"/><path d="M29,13.3 C30.5,10 31.5,7 32.1,4" stroke="#2b2b2b" stroke-width="1.28" fill="none" stroke-linecap="round"/><path d="M33.1,15.8 L36.5,15.2" stroke="#2b2b2b" stroke-width="1.28" fill="none" stroke-linecap="round"/><path d="M-8.4,21.9 L-10.5,24.5 L-16.2,28" stroke="#2b2b2b" stroke-width="1.28" fill="none" stroke-linecap="round"/><path d="M-10.5,24.5 L-8.8,29.5 L-5.7,35" stroke="#2b2b2b" stroke-width="1.28" fill="none" stroke-linecap="round"/><path d="M-8.8,29.5 L-11.5,32" stroke="#2b2b2b" stroke-width="1.28" fill="none" stroke-linecap="round"/><path d="M1.7,15 L-1.5,18 L-5.3,18.4" stroke="#2b2b2b" stroke-width="1.28" fill="none" stroke-linecap="round"/><path d="M-1.5,18 L-0.9,24.6" stroke="#2b2b2b" stroke-width="1.28" fill="none" stroke-linecap="round"/><path d="M1.7,15 L6,18.5 L6.1,22" stroke="#2b2b2b" stroke-width="1.28" fill="none" stroke-linecap="round"/><path d="M6,18.5 L10,17.1" stroke="#2b2b2b" stroke-width="1.28" fill="none" stroke-linecap="round"/><path d="M-3,-15 C0,-13 4,-12.5 8,-12.8" stroke="#2b2b2b" stroke-width="1.28" fill="none" stroke-linecap="round"/><path d="M-6,-16.5 C-3,-16.8 -1,-15.5 0,-14" stroke="#2b2b2b" stroke-width="1.28" fill="none" stroke-linecap="round"/><path d="M65.8,12.2 L70,6 L74,2 L79.1,-0.1" stroke="#b3175a" stroke-width="1.15" fill="none" stroke-linecap="round"/><path d="M74,2 L78,2.5" stroke="#b3175a" stroke-width="1.15" fill="none" stroke-linecap="round"/><path d="M70,6 L75,7 L80.1,7.1" stroke="#b3175a" stroke-width="1.15" fill="none" stroke-linecap="round"/><path d="M75,7 L78.5,4.5" stroke="#b3175a" stroke-width="1.15" fill="none" stroke-linecap="round"/><path d="M65.8,12.2 L71,14 L75,16.5 L79.1,17.3" stroke="#b3175a" stroke-width="1.15" fill="none" stroke-linecap="round"/><path d="M71,14 L76,11.5 L79,12.5" stroke="#b3175a" stroke-width="1.15" fill="none" stroke-linecap="round"/><path d="M68,13 L72.8,10" stroke="#b3175a" stroke-width="1.15" fill="none" stroke-linecap="round"/><path d="M18.5,-5.2 C27,-6.8 33,-8.2 38.2,-7.2 C41,-6.6 42,-5.8 43.3,-4.7 C50,3 55,10 61.7,11.7 L65.8,12.2" stroke="#b3175a" stroke-width="2.03" fill="none" stroke-linecap="round"/><polygon points="-2.14,-3.85 -11.07,-8.24 -11.73,-7.36 -4.86,-0.15" fill="#b3175a"/><polygon points="1.56,-3.90 -2.16,-15.00 -3.24,-14.80 -2.56,-3.10" fill="#b3175a"/><polygon points="4.15,-1.84 10.04,-12.77 9.16,-13.43 0.45,-4.56" fill="#b3175a"/><polygon points="4.03,0.45 19.14,-4.61 18.86,-5.99 2.97,-4.85" fill="#b3175a"/><polygon points="2.47,4.70 23.33,11.15 23.87,9.85 4.53,-0.30" fill="#b3175a"/><polygon points="-4.28,2.80 -8.92,21.72 -7.88,22.08 -0.12,4.20" fill="#b3175a"/><polygon points="-1.29,4.20 1.20,15.05 2.20,14.95 2.29,3.80" fill="#b3175a"/><ellipse cx="0" cy="0.3" rx="6.6" ry="6.4" fill="#b3175a"/><circle cx="0.3" cy="0" r="2.9" fill="#fff"/></g>
</svg>
</body></html>
